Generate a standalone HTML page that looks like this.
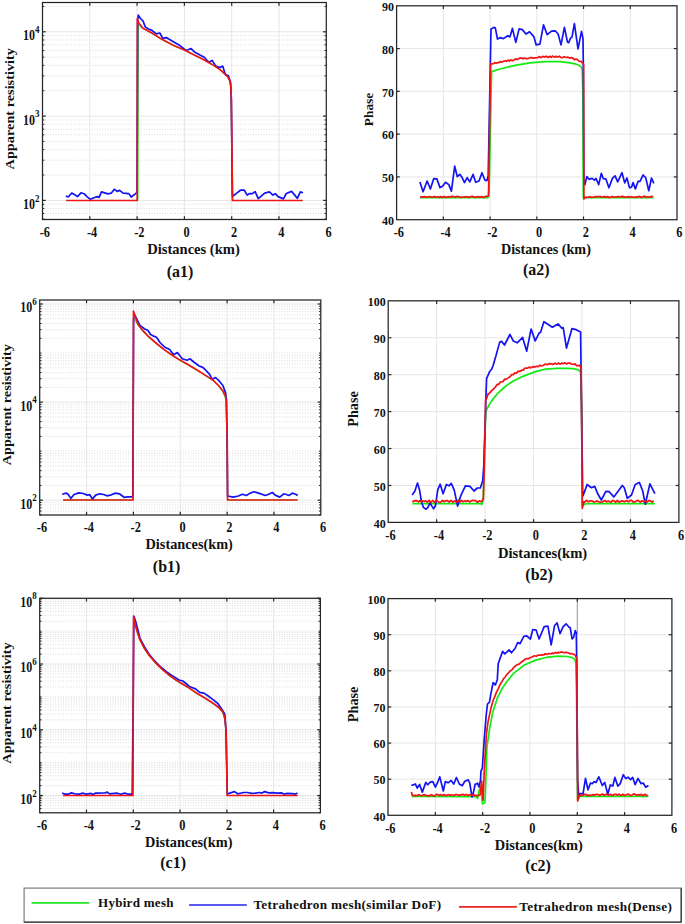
<!DOCTYPE html>
<html><head><meta charset="utf-8"><style>
html,body{margin:0;padding:0;background:#fff;}
svg{display:block;}
text{-webkit-font-smoothing:antialiased;font-family:"Liberation Serif", serif;font-weight:bold;fill:#111111;}
</style></head><body>
<svg width="685" height="924" viewBox="0 0 685 924">
<rect width="685" height="924" fill="#fff"/>
<g><line x1="42.50" y1="219.10" x2="326.30" y2="219.10" stroke="#cfcfcf" stroke-width="0.8" stroke-dasharray="0.9 1.7"/>
<line x1="42.50" y1="213.46" x2="326.30" y2="213.46" stroke="#cfcfcf" stroke-width="0.8" stroke-dasharray="0.9 1.7"/>
<line x1="42.50" y1="208.57" x2="326.30" y2="208.57" stroke="#cfcfcf" stroke-width="0.8" stroke-dasharray="0.9 1.7"/>
<line x1="42.50" y1="204.26" x2="326.30" y2="204.26" stroke="#cfcfcf" stroke-width="0.8" stroke-dasharray="0.9 1.7"/>
<line x1="42.50" y1="175.02" x2="326.30" y2="175.02" stroke="#cfcfcf" stroke-width="0.8" stroke-dasharray="0.9 1.7"/>
<line x1="42.50" y1="160.18" x2="326.30" y2="160.18" stroke="#cfcfcf" stroke-width="0.8" stroke-dasharray="0.9 1.7"/>
<line x1="42.50" y1="149.65" x2="326.30" y2="149.65" stroke="#cfcfcf" stroke-width="0.8" stroke-dasharray="0.9 1.7"/>
<line x1="42.50" y1="141.48" x2="326.30" y2="141.48" stroke="#cfcfcf" stroke-width="0.8" stroke-dasharray="0.9 1.7"/>
<line x1="42.50" y1="134.80" x2="326.30" y2="134.80" stroke="#cfcfcf" stroke-width="0.8" stroke-dasharray="0.9 1.7"/>
<line x1="42.50" y1="129.16" x2="326.30" y2="129.16" stroke="#cfcfcf" stroke-width="0.8" stroke-dasharray="0.9 1.7"/>
<line x1="42.50" y1="124.27" x2="326.30" y2="124.27" stroke="#cfcfcf" stroke-width="0.8" stroke-dasharray="0.9 1.7"/>
<line x1="42.50" y1="119.96" x2="326.30" y2="119.96" stroke="#cfcfcf" stroke-width="0.8" stroke-dasharray="0.9 1.7"/>
<line x1="42.50" y1="90.72" x2="326.30" y2="90.72" stroke="#cfcfcf" stroke-width="0.8" stroke-dasharray="0.9 1.7"/>
<line x1="42.50" y1="75.88" x2="326.30" y2="75.88" stroke="#cfcfcf" stroke-width="0.8" stroke-dasharray="0.9 1.7"/>
<line x1="42.50" y1="65.35" x2="326.30" y2="65.35" stroke="#cfcfcf" stroke-width="0.8" stroke-dasharray="0.9 1.7"/>
<line x1="42.50" y1="57.18" x2="326.30" y2="57.18" stroke="#cfcfcf" stroke-width="0.8" stroke-dasharray="0.9 1.7"/>
<line x1="42.50" y1="50.50" x2="326.30" y2="50.50" stroke="#cfcfcf" stroke-width="0.8" stroke-dasharray="0.9 1.7"/>
<line x1="42.50" y1="44.86" x2="326.30" y2="44.86" stroke="#cfcfcf" stroke-width="0.8" stroke-dasharray="0.9 1.7"/>
<line x1="42.50" y1="39.97" x2="326.30" y2="39.97" stroke="#cfcfcf" stroke-width="0.8" stroke-dasharray="0.9 1.7"/>
<line x1="42.50" y1="35.66" x2="326.30" y2="35.66" stroke="#cfcfcf" stroke-width="0.8" stroke-dasharray="0.9 1.7"/>
<line x1="42.50" y1="6.42" x2="326.30" y2="6.42" stroke="#cfcfcf" stroke-width="0.8" stroke-dasharray="0.9 1.7"/>
<line x1="42.50" y1="200.40" x2="326.30" y2="200.40" stroke="#e6e6e6" stroke-width="1"/>
<line x1="42.50" y1="116.10" x2="326.30" y2="116.10" stroke="#e6e6e6" stroke-width="1"/>
<line x1="42.50" y1="31.80" x2="326.30" y2="31.80" stroke="#e6e6e6" stroke-width="1"/>
<line x1="89.80" y1="2.50" x2="89.80" y2="219.50" stroke="#e6e6e6" stroke-width="1"/>
<line x1="137.10" y1="2.50" x2="137.10" y2="219.50" stroke="#e6e6e6" stroke-width="1"/>
<line x1="184.40" y1="2.50" x2="184.40" y2="219.50" stroke="#e6e6e6" stroke-width="1"/>
<line x1="231.70" y1="2.50" x2="231.70" y2="219.50" stroke="#e6e6e6" stroke-width="1"/>
<line x1="279.00" y1="2.50" x2="279.00" y2="219.50" stroke="#e6e6e6" stroke-width="1"/></g>
<svg x="42.5" y="2.5" width="283.8" height="217.0" viewBox="42.5 2.5 283.8 217.0" overflow="hidden">
<polyline points="66.2,200.5 137.9,200.5 138.4,24.3 139.5,26.0 143.1,28.8 151.9,33.4 162.4,40.0 173.8,45.9 185.0,50.6 193.8,55.0 202.5,59.4 211.3,64.2 220.0,69.9 224.4,73.8 227.9,77.3 229.7,81.0 230.6,86.0 231.2,100.3 232.2,200.5 302.6,200.5" fill="none" stroke="#12ea12" stroke-width="1.0" stroke-linejoin="round" stroke-linecap="butt"/>
<polyline points="65.8,196.0 68.2,197.0 71.7,193.1 76.4,195.8 77.5,196.6 81.0,192.8 84.0,193.7 86.9,196.6 90.4,199.3 93.9,197.8 97.4,196.6 99.1,197.4 101.5,191.9 105.5,193.1 107.9,193.9 111.4,193.1 114.3,189.3 117.2,191.4 119.6,190.4 123.1,193.1 128.9,193.7 131.2,197.0 135.3,193.9 137.0,192.5 137.6,20.0 138.3,15.1 140.5,18.5 143.1,21.2 145.3,26.9 148.5,29.0 151.9,30.4 156.3,33.9 159.8,33.0 162.8,38.3 166.3,37.6 172.9,41.4 179.0,44.9 186.0,50.5 188.0,49.8 191.1,48.6 194.6,52.1 199.9,55.1 204.3,57.3 208.7,62.2 212.2,60.4 215.7,66.1 220.0,67.6 222.7,66.1 225.3,74.4 228.4,75.7 230.5,82.3 231.3,100.0 232.4,196.0 233.0,196.0 236.7,193.1 240.8,190.0 244.3,190.2 247.2,195.1 249.5,193.5 252.4,193.7 255.1,191.6 258.3,198.6 264.7,193.1 269.4,191.9 272.9,195.1 275.2,193.7 278.1,196.6 283.4,198.9 286.3,193.5 291.6,191.4 297.4,198.4 300.3,191.9 303.0,192.8" fill="none" stroke="#1414f2" stroke-width="1.7" stroke-linejoin="round" stroke-linecap="butt"/>
<polyline points="66.2,200.5 137.2,200.5 137.4,18.6 138.8,23.0 143.1,28.2 151.9,33.0 162.4,39.6 173.8,45.5 185.0,50.3 193.8,54.7 202.5,59.1 211.3,63.9 220.0,69.6 224.4,73.5 227.9,77.0 229.7,80.5 230.8,85.0 231.4,100.3 232.5,200.5 302.6,200.5" fill="none" stroke="#f01414" stroke-width="1.7" stroke-linejoin="round" stroke-linecap="butt"/>
</svg>
<g><line x1="89.80" y1="219.50" x2="89.80" y2="216.30" stroke="#262626" stroke-width="1.2"/>
<line x1="89.80" y1="2.50" x2="89.80" y2="5.70" stroke="#262626" stroke-width="1.2"/>
<line x1="137.10" y1="219.50" x2="137.10" y2="216.30" stroke="#262626" stroke-width="1.2"/>
<line x1="137.10" y1="2.50" x2="137.10" y2="5.70" stroke="#262626" stroke-width="1.2"/>
<line x1="184.40" y1="219.50" x2="184.40" y2="216.30" stroke="#262626" stroke-width="1.2"/>
<line x1="184.40" y1="2.50" x2="184.40" y2="5.70" stroke="#262626" stroke-width="1.2"/>
<line x1="231.70" y1="219.50" x2="231.70" y2="216.30" stroke="#262626" stroke-width="1.2"/>
<line x1="231.70" y1="2.50" x2="231.70" y2="5.70" stroke="#262626" stroke-width="1.2"/>
<line x1="279.00" y1="219.50" x2="279.00" y2="216.30" stroke="#262626" stroke-width="1.2"/>
<line x1="279.00" y1="2.50" x2="279.00" y2="5.70" stroke="#262626" stroke-width="1.2"/>
<line x1="42.50" y1="200.40" x2="45.70" y2="200.40" stroke="#262626" stroke-width="1.2"/>
<line x1="326.30" y1="200.40" x2="323.10" y2="200.40" stroke="#262626" stroke-width="1.2"/>
<line x1="42.50" y1="116.10" x2="45.70" y2="116.10" stroke="#262626" stroke-width="1.2"/>
<line x1="326.30" y1="116.10" x2="323.10" y2="116.10" stroke="#262626" stroke-width="1.2"/>
<line x1="42.50" y1="31.80" x2="45.70" y2="31.80" stroke="#262626" stroke-width="1.2"/>
<line x1="326.30" y1="31.80" x2="323.10" y2="31.80" stroke="#262626" stroke-width="1.2"/>
<line x1="42.50" y1="219.10" x2="44.30" y2="219.10" stroke="#262626" stroke-width="1"/>
<line x1="326.30" y1="219.10" x2="324.50" y2="219.10" stroke="#262626" stroke-width="1"/>
<line x1="42.50" y1="213.46" x2="44.30" y2="213.46" stroke="#262626" stroke-width="1"/>
<line x1="326.30" y1="213.46" x2="324.50" y2="213.46" stroke="#262626" stroke-width="1"/>
<line x1="42.50" y1="208.57" x2="44.30" y2="208.57" stroke="#262626" stroke-width="1"/>
<line x1="326.30" y1="208.57" x2="324.50" y2="208.57" stroke="#262626" stroke-width="1"/>
<line x1="42.50" y1="204.26" x2="44.30" y2="204.26" stroke="#262626" stroke-width="1"/>
<line x1="326.30" y1="204.26" x2="324.50" y2="204.26" stroke="#262626" stroke-width="1"/>
<line x1="42.50" y1="175.02" x2="44.30" y2="175.02" stroke="#262626" stroke-width="1"/>
<line x1="326.30" y1="175.02" x2="324.50" y2="175.02" stroke="#262626" stroke-width="1"/>
<line x1="42.50" y1="160.18" x2="44.30" y2="160.18" stroke="#262626" stroke-width="1"/>
<line x1="326.30" y1="160.18" x2="324.50" y2="160.18" stroke="#262626" stroke-width="1"/>
<line x1="42.50" y1="149.65" x2="44.30" y2="149.65" stroke="#262626" stroke-width="1"/>
<line x1="326.30" y1="149.65" x2="324.50" y2="149.65" stroke="#262626" stroke-width="1"/>
<line x1="42.50" y1="141.48" x2="44.30" y2="141.48" stroke="#262626" stroke-width="1"/>
<line x1="326.30" y1="141.48" x2="324.50" y2="141.48" stroke="#262626" stroke-width="1"/>
<line x1="42.50" y1="134.80" x2="44.30" y2="134.80" stroke="#262626" stroke-width="1"/>
<line x1="326.30" y1="134.80" x2="324.50" y2="134.80" stroke="#262626" stroke-width="1"/>
<line x1="42.50" y1="129.16" x2="44.30" y2="129.16" stroke="#262626" stroke-width="1"/>
<line x1="326.30" y1="129.16" x2="324.50" y2="129.16" stroke="#262626" stroke-width="1"/>
<line x1="42.50" y1="124.27" x2="44.30" y2="124.27" stroke="#262626" stroke-width="1"/>
<line x1="326.30" y1="124.27" x2="324.50" y2="124.27" stroke="#262626" stroke-width="1"/>
<line x1="42.50" y1="119.96" x2="44.30" y2="119.96" stroke="#262626" stroke-width="1"/>
<line x1="326.30" y1="119.96" x2="324.50" y2="119.96" stroke="#262626" stroke-width="1"/>
<line x1="42.50" y1="90.72" x2="44.30" y2="90.72" stroke="#262626" stroke-width="1"/>
<line x1="326.30" y1="90.72" x2="324.50" y2="90.72" stroke="#262626" stroke-width="1"/>
<line x1="42.50" y1="75.88" x2="44.30" y2="75.88" stroke="#262626" stroke-width="1"/>
<line x1="326.30" y1="75.88" x2="324.50" y2="75.88" stroke="#262626" stroke-width="1"/>
<line x1="42.50" y1="65.35" x2="44.30" y2="65.35" stroke="#262626" stroke-width="1"/>
<line x1="326.30" y1="65.35" x2="324.50" y2="65.35" stroke="#262626" stroke-width="1"/>
<line x1="42.50" y1="57.18" x2="44.30" y2="57.18" stroke="#262626" stroke-width="1"/>
<line x1="326.30" y1="57.18" x2="324.50" y2="57.18" stroke="#262626" stroke-width="1"/>
<line x1="42.50" y1="50.50" x2="44.30" y2="50.50" stroke="#262626" stroke-width="1"/>
<line x1="326.30" y1="50.50" x2="324.50" y2="50.50" stroke="#262626" stroke-width="1"/>
<line x1="42.50" y1="44.86" x2="44.30" y2="44.86" stroke="#262626" stroke-width="1"/>
<line x1="326.30" y1="44.86" x2="324.50" y2="44.86" stroke="#262626" stroke-width="1"/>
<line x1="42.50" y1="39.97" x2="44.30" y2="39.97" stroke="#262626" stroke-width="1"/>
<line x1="326.30" y1="39.97" x2="324.50" y2="39.97" stroke="#262626" stroke-width="1"/>
<line x1="42.50" y1="35.66" x2="44.30" y2="35.66" stroke="#262626" stroke-width="1"/>
<line x1="326.30" y1="35.66" x2="324.50" y2="35.66" stroke="#262626" stroke-width="1"/>
<line x1="42.50" y1="6.42" x2="44.30" y2="6.42" stroke="#262626" stroke-width="1"/>
<line x1="326.30" y1="6.42" x2="324.50" y2="6.42" stroke="#262626" stroke-width="1"/>
<rect x="42.50" y="2.50" width="283.80" height="217.00" fill="none" stroke="#262626" stroke-width="1.25"/>
<text transform="translate(44.80,237.20) scale(1.03,1.16)" text-anchor="middle" font-size="12">-6</text>
<text transform="translate(92.10,237.20) scale(1.03,1.16)" text-anchor="middle" font-size="12">-4</text>
<text transform="translate(139.40,237.20) scale(1.03,1.16)" text-anchor="middle" font-size="12">-2</text>
<text transform="translate(186.70,237.20) scale(1.03,1.16)" text-anchor="middle" font-size="12">0</text>
<text transform="translate(234.00,237.20) scale(1.03,1.16)" text-anchor="middle" font-size="12">2</text>
<text transform="translate(281.30,237.20) scale(1.03,1.16)" text-anchor="middle" font-size="12">4</text>
<text transform="translate(328.60,237.20) scale(1.03,1.16)" text-anchor="middle" font-size="12">6</text>
<text transform="translate(35.10,208.80) scale(1.0,1.13)" text-anchor="end" font-size="12">10</text>
<text transform="translate(35.00,201.60) scale(1.0,1.1)" text-anchor="start" font-size="9">2</text>
<text transform="translate(35.10,124.50) scale(1.0,1.13)" text-anchor="end" font-size="12">10</text>
<text transform="translate(35.00,117.30) scale(1.0,1.1)" text-anchor="start" font-size="9">3</text>
<text transform="translate(35.10,40.20) scale(1.0,1.13)" text-anchor="end" font-size="12">10</text>
<text transform="translate(35.00,33.00) scale(1.0,1.1)" text-anchor="start" font-size="9">4</text>
<text x="193.50" y="253.80" text-anchor="middle" font-size="14.55">Distances (km)</text>
<text transform="translate(13.90,108.75) rotate(-90) scale(1.1,1)" text-anchor="middle" font-size="13">Apparent resistivity</text>
<text transform="translate(180.00,276.80) scale(1,1.08)" text-anchor="middle" font-size="16">(a1)</text></g>
<g><line x1="396.60" y1="176.92" x2="677.00" y2="176.92" stroke="#e6e6e6" stroke-width="1"/>
<line x1="396.60" y1="134.14" x2="677.00" y2="134.14" stroke="#e6e6e6" stroke-width="1"/>
<line x1="396.60" y1="91.36" x2="677.00" y2="91.36" stroke="#e6e6e6" stroke-width="1"/>
<line x1="396.60" y1="48.58" x2="677.00" y2="48.58" stroke="#e6e6e6" stroke-width="1"/>
<line x1="443.33" y1="5.80" x2="443.33" y2="219.70" stroke="#e6e6e6" stroke-width="1"/>
<line x1="490.07" y1="5.80" x2="490.07" y2="219.70" stroke="#e6e6e6" stroke-width="1"/>
<line x1="536.80" y1="5.80" x2="536.80" y2="219.70" stroke="#e6e6e6" stroke-width="1"/>
<line x1="583.53" y1="5.80" x2="583.53" y2="219.70" stroke="#e6e6e6" stroke-width="1"/>
<line x1="630.27" y1="5.80" x2="630.27" y2="219.70" stroke="#e6e6e6" stroke-width="1"/></g>
<svg x="396.6" y="5.8" width="280.4" height="213.89999999999998" viewBox="396.6 5.8 280.4 213.89999999999998" overflow="hidden">
<polyline points="420.0,197.7 487.8,197.7 489.0,195.3 491.6,71.6 500.0,69.0 515.0,65.4 530.0,62.9 545.0,61.7 560.0,61.7 570.0,62.8 575.0,63.8 579.0,65.3 581.5,67.4 582.3,70.5 582.8,90.0 583.3,197.7 653.6,197.7" fill="none" stroke="#12ea12" stroke-width="1.7" stroke-linejoin="round" stroke-linecap="butt"/>
<polyline points="419.9,181.9 423.1,191.8 427.1,181.0 430.4,188.9 433.7,178.7 436.9,178.9 440.0,187.6 442.6,186.3 445.5,182.3 448.8,184.6 451.4,191.1 454.7,166.2 457.3,176.7 459.7,174.4 461.9,177.1 464.5,182.6 467.2,177.6 469.8,181.9 473.1,174.4 475.7,182.3 479.0,181.0 482.0,172.7 484.9,180.2 486.9,180.6 488.2,175.8 491.0,28.9 493.9,27.4 495.3,27.8 497.5,39.1 500.4,37.6 503.4,38.6 507.7,35.7 509.9,36.9 512.4,28.4 515.8,42.4 519.1,28.9 522.3,29.6 526.0,34.0 529.6,31.8 534.0,36.9 536.2,44.9 539.9,44.2 543.5,24.9 547.2,34.7 551.5,31.1 555.2,30.8 558.1,34.0 561.0,44.9 564.4,27.4 567.5,42.2 568.7,42.7 570.5,38.1 572.0,37.1 574.4,23.7 578.0,48.9 581.5,31.4 583.0,38.6 583.3,63.3 583.9,184.6 584.9,184.6 586.8,176.7 589.2,179.3 592.1,178.4 594.4,180.2 596.0,178.4 598.7,184.6 601.3,173.4 603.3,178.7 605.9,178.9 608.9,187.8 612.4,178.4 615.1,175.8 617.7,181.9 622.0,172.7 624.7,182.9 626.9,178.0 629.5,187.8 631.5,187.2 633.1,182.6 635.4,188.9 638.1,181.3 640.0,181.3 643.1,175.0 645.7,177.6 648.8,190.7 651.5,178.0 653.8,183.3" fill="none" stroke="#1414f2" stroke-width="1.7" stroke-linejoin="round" stroke-linecap="butt"/>
<polyline points="420.0,197.2 421.9,196.7 423.4,197.1 424.6,196.6 425.9,197.2 427.2,197.2 429.4,196.5 431.6,197.1 433.1,197.1 434.6,196.4 436.4,197.3 438.1,196.7 439.5,197.4 441.0,196.5 442.5,197.4 444.0,196.5 446.0,197.4 448.2,196.7 450.2,197.1 451.4,196.4 453.2,196.4 455.1,197.3 456.7,196.4 458.4,196.5 460.3,197.3 462.4,197.2 464.2,196.7 465.6,197.1 467.6,196.7 469.2,197.4 470.8,196.5 472.8,196.4 474.4,197.2 476.6,197.1 478.0,196.6 479.8,197.2 481.4,196.6 483.6,197.4 485.4,196.4 488.3,196.2 488.6,190.0 490.6,63.8 491.5,64.0 493.5,63.7 494.8,62.7 496.1,63.3 497.6,62.5 498.9,62.7 500.2,61.6 501.5,62.3 503.1,61.4 505.3,60.8 506.5,61.2 508.0,60.1 509.2,61.1 510.6,59.8 512.3,60.7 514.2,60.0 515.5,58.9 517.5,59.5 519.5,58.2 521.6,58.0 523.0,58.8 524.2,58.0 525.7,58.6 527.3,58.6 529.5,58.1 530.9,57.4 532.7,58.2 534.4,57.9 535.7,57.8 537.7,57.7 539.0,56.5 541.0,57.7 542.6,56.3 544.0,57.1 546.1,56.2 548.1,57.5 549.7,56.3 550.9,57.4 552.6,56.0 554.7,57.2 556.1,56.3 557.9,57.1 559.3,56.2 560.9,57.4 562.5,57.7 564.3,56.7 565.9,57.5 567.9,57.2 569.8,58.1 571.6,57.6 572.9,58.0 574.3,59.6 576.1,59.1 577.7,59.8 579.4,61.5 581.2,61.4 583.6,64.3 583.9,199.0 585.0,197.4 586.5,197.3 588.5,197.1 590.1,196.7 591.4,197.4 593.5,197.1 595.4,196.7 597.6,196.7 599.1,196.5 601.2,196.7 602.9,197.2 604.4,196.4 606.2,197.2 607.7,196.5 609.0,197.5 611.1,197.1 612.4,196.4 613.7,197.2 615.7,197.2 617.8,196.5 619.1,197.1 620.7,196.7 622.6,196.4 624.6,197.1 626.3,197.2 628.4,196.6 630.2,197.2 631.5,196.7 633.0,197.2 634.5,197.3 636.1,196.7 637.3,197.4 638.6,196.5 639.9,196.4 641.6,197.4 643.3,196.4 644.9,196.4 646.7,197.2 648.0,196.7 649.9,197.2 651.2,196.4 653.1,196.6" fill="none" stroke="#f01414" stroke-width="1.7" stroke-linejoin="round" stroke-linecap="butt"/>
</svg>
<g><line x1="443.33" y1="219.70" x2="443.33" y2="216.50" stroke="#262626" stroke-width="1.2"/>
<line x1="443.33" y1="5.80" x2="443.33" y2="9.00" stroke="#262626" stroke-width="1.2"/>
<line x1="490.07" y1="219.70" x2="490.07" y2="216.50" stroke="#262626" stroke-width="1.2"/>
<line x1="490.07" y1="5.80" x2="490.07" y2="9.00" stroke="#262626" stroke-width="1.2"/>
<line x1="536.80" y1="219.70" x2="536.80" y2="216.50" stroke="#262626" stroke-width="1.2"/>
<line x1="536.80" y1="5.80" x2="536.80" y2="9.00" stroke="#262626" stroke-width="1.2"/>
<line x1="583.53" y1="219.70" x2="583.53" y2="216.50" stroke="#262626" stroke-width="1.2"/>
<line x1="583.53" y1="5.80" x2="583.53" y2="9.00" stroke="#262626" stroke-width="1.2"/>
<line x1="630.27" y1="219.70" x2="630.27" y2="216.50" stroke="#262626" stroke-width="1.2"/>
<line x1="630.27" y1="5.80" x2="630.27" y2="9.00" stroke="#262626" stroke-width="1.2"/>
<line x1="396.60" y1="176.92" x2="399.80" y2="176.92" stroke="#262626" stroke-width="1.2"/>
<line x1="677.00" y1="176.92" x2="673.80" y2="176.92" stroke="#262626" stroke-width="1.2"/>
<line x1="396.60" y1="134.14" x2="399.80" y2="134.14" stroke="#262626" stroke-width="1.2"/>
<line x1="677.00" y1="134.14" x2="673.80" y2="134.14" stroke="#262626" stroke-width="1.2"/>
<line x1="396.60" y1="91.36" x2="399.80" y2="91.36" stroke="#262626" stroke-width="1.2"/>
<line x1="677.00" y1="91.36" x2="673.80" y2="91.36" stroke="#262626" stroke-width="1.2"/>
<line x1="396.60" y1="48.58" x2="399.80" y2="48.58" stroke="#262626" stroke-width="1.2"/>
<line x1="677.00" y1="48.58" x2="673.80" y2="48.58" stroke="#262626" stroke-width="1.2"/>
<rect x="396.60" y="5.80" width="280.40" height="213.90" fill="none" stroke="#262626" stroke-width="1.25"/>
<text transform="translate(398.90,237.30) scale(1.03,1.16)" text-anchor="middle" font-size="12">-6</text>
<text transform="translate(445.63,237.30) scale(1.03,1.16)" text-anchor="middle" font-size="12">-4</text>
<text transform="translate(492.37,237.30) scale(1.03,1.16)" text-anchor="middle" font-size="12">-2</text>
<text transform="translate(539.10,237.30) scale(1.03,1.16)" text-anchor="middle" font-size="12">0</text>
<text transform="translate(585.83,237.30) scale(1.03,1.16)" text-anchor="middle" font-size="12">2</text>
<text transform="translate(632.57,237.30) scale(1.03,1.16)" text-anchor="middle" font-size="12">4</text>
<text transform="translate(679.30,237.30) scale(1.03,1.16)" text-anchor="middle" font-size="12">6</text>
<text transform="translate(394.10,225.00) scale(1.0,1.1)" text-anchor="end" font-size="12">40</text>
<text transform="translate(394.10,182.22) scale(1.0,1.1)" text-anchor="end" font-size="12">50</text>
<text transform="translate(394.10,139.44) scale(1.0,1.1)" text-anchor="end" font-size="12">60</text>
<text transform="translate(394.10,96.66) scale(1.0,1.1)" text-anchor="end" font-size="12">70</text>
<text transform="translate(394.10,53.88) scale(1.0,1.1)" text-anchor="end" font-size="12">80</text>
<text transform="translate(394.10,11.10) scale(1.0,1.1)" text-anchor="end" font-size="12">90</text>
<text x="545.90" y="253.80" text-anchor="middle" font-size="14.15">Distances (km)</text>
<text transform="translate(373.20,109.50) rotate(-90) scale(1,1)" text-anchor="middle" font-size="13.4">Phase</text>
<text transform="translate(536.30,274.80) scale(1,1.08)" text-anchor="middle" font-size="16">(a2)</text></g>
<g><line x1="39.70" y1="514.97" x2="320.80" y2="514.97" stroke="#cfcfcf" stroke-width="0.8" stroke-dasharray="0.9 1.7"/>
<line x1="39.70" y1="511.08" x2="320.80" y2="511.08" stroke="#cfcfcf" stroke-width="0.8" stroke-dasharray="0.9 1.7"/>
<line x1="39.70" y1="507.80" x2="320.80" y2="507.80" stroke="#cfcfcf" stroke-width="0.8" stroke-dasharray="0.9 1.7"/>
<line x1="39.70" y1="504.95" x2="320.80" y2="504.95" stroke="#cfcfcf" stroke-width="0.8" stroke-dasharray="0.9 1.7"/>
<line x1="39.70" y1="502.44" x2="320.80" y2="502.44" stroke="#cfcfcf" stroke-width="0.8" stroke-dasharray="0.9 1.7"/>
<line x1="39.70" y1="485.43" x2="320.80" y2="485.43" stroke="#cfcfcf" stroke-width="0.8" stroke-dasharray="0.9 1.7"/>
<line x1="39.70" y1="476.80" x2="320.80" y2="476.80" stroke="#cfcfcf" stroke-width="0.8" stroke-dasharray="0.9 1.7"/>
<line x1="39.70" y1="470.67" x2="320.80" y2="470.67" stroke="#cfcfcf" stroke-width="0.8" stroke-dasharray="0.9 1.7"/>
<line x1="39.70" y1="465.92" x2="320.80" y2="465.92" stroke="#cfcfcf" stroke-width="0.8" stroke-dasharray="0.9 1.7"/>
<line x1="39.70" y1="462.03" x2="320.80" y2="462.03" stroke="#cfcfcf" stroke-width="0.8" stroke-dasharray="0.9 1.7"/>
<line x1="39.70" y1="458.75" x2="320.80" y2="458.75" stroke="#cfcfcf" stroke-width="0.8" stroke-dasharray="0.9 1.7"/>
<line x1="39.70" y1="455.90" x2="320.80" y2="455.90" stroke="#cfcfcf" stroke-width="0.8" stroke-dasharray="0.9 1.7"/>
<line x1="39.70" y1="453.39" x2="320.80" y2="453.39" stroke="#cfcfcf" stroke-width="0.8" stroke-dasharray="0.9 1.7"/>
<line x1="39.70" y1="451.15" x2="320.80" y2="451.15" stroke="#cfcfcf" stroke-width="0.8" stroke-dasharray="0.9 1.7"/>
<line x1="39.70" y1="436.38" x2="320.80" y2="436.38" stroke="#cfcfcf" stroke-width="0.8" stroke-dasharray="0.9 1.7"/>
<line x1="39.70" y1="427.75" x2="320.80" y2="427.75" stroke="#cfcfcf" stroke-width="0.8" stroke-dasharray="0.9 1.7"/>
<line x1="39.70" y1="421.62" x2="320.80" y2="421.62" stroke="#cfcfcf" stroke-width="0.8" stroke-dasharray="0.9 1.7"/>
<line x1="39.70" y1="416.87" x2="320.80" y2="416.87" stroke="#cfcfcf" stroke-width="0.8" stroke-dasharray="0.9 1.7"/>
<line x1="39.70" y1="412.98" x2="320.80" y2="412.98" stroke="#cfcfcf" stroke-width="0.8" stroke-dasharray="0.9 1.7"/>
<line x1="39.70" y1="409.70" x2="320.80" y2="409.70" stroke="#cfcfcf" stroke-width="0.8" stroke-dasharray="0.9 1.7"/>
<line x1="39.70" y1="406.85" x2="320.80" y2="406.85" stroke="#cfcfcf" stroke-width="0.8" stroke-dasharray="0.9 1.7"/>
<line x1="39.70" y1="404.34" x2="320.80" y2="404.34" stroke="#cfcfcf" stroke-width="0.8" stroke-dasharray="0.9 1.7"/>
<line x1="39.70" y1="387.33" x2="320.80" y2="387.33" stroke="#cfcfcf" stroke-width="0.8" stroke-dasharray="0.9 1.7"/>
<line x1="39.70" y1="378.70" x2="320.80" y2="378.70" stroke="#cfcfcf" stroke-width="0.8" stroke-dasharray="0.9 1.7"/>
<line x1="39.70" y1="372.57" x2="320.80" y2="372.57" stroke="#cfcfcf" stroke-width="0.8" stroke-dasharray="0.9 1.7"/>
<line x1="39.70" y1="367.82" x2="320.80" y2="367.82" stroke="#cfcfcf" stroke-width="0.8" stroke-dasharray="0.9 1.7"/>
<line x1="39.70" y1="363.93" x2="320.80" y2="363.93" stroke="#cfcfcf" stroke-width="0.8" stroke-dasharray="0.9 1.7"/>
<line x1="39.70" y1="360.65" x2="320.80" y2="360.65" stroke="#cfcfcf" stroke-width="0.8" stroke-dasharray="0.9 1.7"/>
<line x1="39.70" y1="357.80" x2="320.80" y2="357.80" stroke="#cfcfcf" stroke-width="0.8" stroke-dasharray="0.9 1.7"/>
<line x1="39.70" y1="355.29" x2="320.80" y2="355.29" stroke="#cfcfcf" stroke-width="0.8" stroke-dasharray="0.9 1.7"/>
<line x1="39.70" y1="353.05" x2="320.80" y2="353.05" stroke="#cfcfcf" stroke-width="0.8" stroke-dasharray="0.9 1.7"/>
<line x1="39.70" y1="338.28" x2="320.80" y2="338.28" stroke="#cfcfcf" stroke-width="0.8" stroke-dasharray="0.9 1.7"/>
<line x1="39.70" y1="329.65" x2="320.80" y2="329.65" stroke="#cfcfcf" stroke-width="0.8" stroke-dasharray="0.9 1.7"/>
<line x1="39.70" y1="323.52" x2="320.80" y2="323.52" stroke="#cfcfcf" stroke-width="0.8" stroke-dasharray="0.9 1.7"/>
<line x1="39.70" y1="318.77" x2="320.80" y2="318.77" stroke="#cfcfcf" stroke-width="0.8" stroke-dasharray="0.9 1.7"/>
<line x1="39.70" y1="314.88" x2="320.80" y2="314.88" stroke="#cfcfcf" stroke-width="0.8" stroke-dasharray="0.9 1.7"/>
<line x1="39.70" y1="311.60" x2="320.80" y2="311.60" stroke="#cfcfcf" stroke-width="0.8" stroke-dasharray="0.9 1.7"/>
<line x1="39.70" y1="308.75" x2="320.80" y2="308.75" stroke="#cfcfcf" stroke-width="0.8" stroke-dasharray="0.9 1.7"/>
<line x1="39.70" y1="306.24" x2="320.80" y2="306.24" stroke="#cfcfcf" stroke-width="0.8" stroke-dasharray="0.9 1.7"/>
<line x1="39.70" y1="500.20" x2="320.80" y2="500.20" stroke="#e6e6e6" stroke-width="1"/>
<line x1="39.70" y1="402.10" x2="320.80" y2="402.10" stroke="#e6e6e6" stroke-width="1"/>
<line x1="39.70" y1="304.00" x2="320.80" y2="304.00" stroke="#e6e6e6" stroke-width="1"/>
<line x1="86.55" y1="300.00" x2="86.55" y2="515.00" stroke="#e6e6e6" stroke-width="1"/>
<line x1="133.40" y1="300.00" x2="133.40" y2="515.00" stroke="#e6e6e6" stroke-width="1"/>
<line x1="180.25" y1="300.00" x2="180.25" y2="515.00" stroke="#e6e6e6" stroke-width="1"/>
<line x1="227.10" y1="300.00" x2="227.10" y2="515.00" stroke="#e6e6e6" stroke-width="1"/>
<line x1="273.95" y1="300.00" x2="273.95" y2="515.00" stroke="#e6e6e6" stroke-width="1"/></g>
<svg x="39.7" y="300.0" width="281.1" height="215.0" viewBox="39.7 300.0 281.1 215.0" overflow="hidden">
<polyline points="63.1,500.0 133.0,500.0 133.5,318.0 136.0,322.0 138.5,326.0 142.5,331.0 147.8,336.5 154.8,342.6 163.5,349.6 172.3,355.7 180.0,360.6 188.8,365.5 197.5,370.7 206.3,376.3 213.3,380.8 218.5,386.0 222.5,391.5 225.0,397.0 226.0,402.0 226.9,440.0 227.5,500.0 297.6,500.0" fill="none" stroke="#12ea12" stroke-width="1.0" stroke-linejoin="round" stroke-linecap="butt"/>
<polyline points="62.2,494.2 66.2,493.1 68.1,494.2 70.8,498.4 74.1,494.5 78.7,492.9 83.2,493.5 87.2,495.1 89.8,494.7 92.4,499.1 95.7,495.1 99.7,493.8 103.6,494.5 106.9,495.8 111.5,494.8 115.4,493.1 119.4,493.8 124.0,497.3 127.9,496.8 131.9,496.8 132.8,496.0 133.6,318.0 134.6,314.9 137.0,319.5 139.9,325.4 145.1,329.3 147.8,330.2 150.4,334.2 153.0,335.9 156.5,337.2 160.0,342.5 164.4,346.9 169.7,349.5 173.6,354.7 177.4,352.6 180.5,356.5 182.2,358.8 187.0,360.3 190.1,358.8 193.1,361.5 198.8,365.8 203.2,367.6 205.4,369.8 209.8,374.6 212.0,379.4 215.5,377.5 219.4,381.2 222.9,385.5 225.5,392.6 226.4,399.6 227.1,440.0 227.6,496.0 233.1,497.1 238.4,496.0 242.3,494.2 246.3,495.5 250.2,493.1 254.2,491.8 259.4,493.4 265.3,495.5 268.6,494.2 272.3,492.5 275.2,495.1 279.8,497.1 283.7,493.8 286.4,494.5 289.0,495.5 292.3,493.1 295.6,494.2 297.8,495.5" fill="none" stroke="#1414f2" stroke-width="1.7" stroke-linejoin="round" stroke-linecap="butt"/>
<polyline points="63.1,500.0 133.0,500.0 133.5,311.0 135.5,317.5 138.1,324.5 142.5,330.2 147.8,335.9 154.8,342.0 163.5,349.1 172.3,355.2 180.0,360.1 188.8,365.0 197.5,370.2 206.3,375.9 213.3,380.3 218.5,385.5 222.9,390.8 225.5,396.1 226.4,401.3 227.2,440.0 227.6,500.0 297.6,500.0" fill="none" stroke="#f01414" stroke-width="1.7" stroke-linejoin="round" stroke-linecap="butt"/>
</svg>
<g><line x1="86.55" y1="515.00" x2="86.55" y2="511.80" stroke="#262626" stroke-width="1.2"/>
<line x1="86.55" y1="300.00" x2="86.55" y2="303.20" stroke="#262626" stroke-width="1.2"/>
<line x1="133.40" y1="515.00" x2="133.40" y2="511.80" stroke="#262626" stroke-width="1.2"/>
<line x1="133.40" y1="300.00" x2="133.40" y2="303.20" stroke="#262626" stroke-width="1.2"/>
<line x1="180.25" y1="515.00" x2="180.25" y2="511.80" stroke="#262626" stroke-width="1.2"/>
<line x1="180.25" y1="300.00" x2="180.25" y2="303.20" stroke="#262626" stroke-width="1.2"/>
<line x1="227.10" y1="515.00" x2="227.10" y2="511.80" stroke="#262626" stroke-width="1.2"/>
<line x1="227.10" y1="300.00" x2="227.10" y2="303.20" stroke="#262626" stroke-width="1.2"/>
<line x1="273.95" y1="515.00" x2="273.95" y2="511.80" stroke="#262626" stroke-width="1.2"/>
<line x1="273.95" y1="300.00" x2="273.95" y2="303.20" stroke="#262626" stroke-width="1.2"/>
<line x1="39.70" y1="500.20" x2="42.90" y2="500.20" stroke="#262626" stroke-width="1.2"/>
<line x1="320.80" y1="500.20" x2="317.60" y2="500.20" stroke="#262626" stroke-width="1.2"/>
<line x1="39.70" y1="402.10" x2="42.90" y2="402.10" stroke="#262626" stroke-width="1.2"/>
<line x1="320.80" y1="402.10" x2="317.60" y2="402.10" stroke="#262626" stroke-width="1.2"/>
<line x1="39.70" y1="304.00" x2="42.90" y2="304.00" stroke="#262626" stroke-width="1.2"/>
<line x1="320.80" y1="304.00" x2="317.60" y2="304.00" stroke="#262626" stroke-width="1.2"/>
<line x1="39.70" y1="514.97" x2="41.50" y2="514.97" stroke="#262626" stroke-width="1"/>
<line x1="320.80" y1="514.97" x2="319.00" y2="514.97" stroke="#262626" stroke-width="1"/>
<line x1="39.70" y1="511.08" x2="41.50" y2="511.08" stroke="#262626" stroke-width="1"/>
<line x1="320.80" y1="511.08" x2="319.00" y2="511.08" stroke="#262626" stroke-width="1"/>
<line x1="39.70" y1="507.80" x2="41.50" y2="507.80" stroke="#262626" stroke-width="1"/>
<line x1="320.80" y1="507.80" x2="319.00" y2="507.80" stroke="#262626" stroke-width="1"/>
<line x1="39.70" y1="504.95" x2="41.50" y2="504.95" stroke="#262626" stroke-width="1"/>
<line x1="320.80" y1="504.95" x2="319.00" y2="504.95" stroke="#262626" stroke-width="1"/>
<line x1="39.70" y1="502.44" x2="41.50" y2="502.44" stroke="#262626" stroke-width="1"/>
<line x1="320.80" y1="502.44" x2="319.00" y2="502.44" stroke="#262626" stroke-width="1"/>
<line x1="39.70" y1="485.43" x2="41.50" y2="485.43" stroke="#262626" stroke-width="1"/>
<line x1="320.80" y1="485.43" x2="319.00" y2="485.43" stroke="#262626" stroke-width="1"/>
<line x1="39.70" y1="476.80" x2="41.50" y2="476.80" stroke="#262626" stroke-width="1"/>
<line x1="320.80" y1="476.80" x2="319.00" y2="476.80" stroke="#262626" stroke-width="1"/>
<line x1="39.70" y1="470.67" x2="41.50" y2="470.67" stroke="#262626" stroke-width="1"/>
<line x1="320.80" y1="470.67" x2="319.00" y2="470.67" stroke="#262626" stroke-width="1"/>
<line x1="39.70" y1="465.92" x2="41.50" y2="465.92" stroke="#262626" stroke-width="1"/>
<line x1="320.80" y1="465.92" x2="319.00" y2="465.92" stroke="#262626" stroke-width="1"/>
<line x1="39.70" y1="462.03" x2="41.50" y2="462.03" stroke="#262626" stroke-width="1"/>
<line x1="320.80" y1="462.03" x2="319.00" y2="462.03" stroke="#262626" stroke-width="1"/>
<line x1="39.70" y1="458.75" x2="41.50" y2="458.75" stroke="#262626" stroke-width="1"/>
<line x1="320.80" y1="458.75" x2="319.00" y2="458.75" stroke="#262626" stroke-width="1"/>
<line x1="39.70" y1="455.90" x2="41.50" y2="455.90" stroke="#262626" stroke-width="1"/>
<line x1="320.80" y1="455.90" x2="319.00" y2="455.90" stroke="#262626" stroke-width="1"/>
<line x1="39.70" y1="453.39" x2="41.50" y2="453.39" stroke="#262626" stroke-width="1"/>
<line x1="320.80" y1="453.39" x2="319.00" y2="453.39" stroke="#262626" stroke-width="1"/>
<line x1="39.70" y1="451.15" x2="41.50" y2="451.15" stroke="#262626" stroke-width="1"/>
<line x1="320.80" y1="451.15" x2="319.00" y2="451.15" stroke="#262626" stroke-width="1"/>
<line x1="39.70" y1="436.38" x2="41.50" y2="436.38" stroke="#262626" stroke-width="1"/>
<line x1="320.80" y1="436.38" x2="319.00" y2="436.38" stroke="#262626" stroke-width="1"/>
<line x1="39.70" y1="427.75" x2="41.50" y2="427.75" stroke="#262626" stroke-width="1"/>
<line x1="320.80" y1="427.75" x2="319.00" y2="427.75" stroke="#262626" stroke-width="1"/>
<line x1="39.70" y1="421.62" x2="41.50" y2="421.62" stroke="#262626" stroke-width="1"/>
<line x1="320.80" y1="421.62" x2="319.00" y2="421.62" stroke="#262626" stroke-width="1"/>
<line x1="39.70" y1="416.87" x2="41.50" y2="416.87" stroke="#262626" stroke-width="1"/>
<line x1="320.80" y1="416.87" x2="319.00" y2="416.87" stroke="#262626" stroke-width="1"/>
<line x1="39.70" y1="412.98" x2="41.50" y2="412.98" stroke="#262626" stroke-width="1"/>
<line x1="320.80" y1="412.98" x2="319.00" y2="412.98" stroke="#262626" stroke-width="1"/>
<line x1="39.70" y1="409.70" x2="41.50" y2="409.70" stroke="#262626" stroke-width="1"/>
<line x1="320.80" y1="409.70" x2="319.00" y2="409.70" stroke="#262626" stroke-width="1"/>
<line x1="39.70" y1="406.85" x2="41.50" y2="406.85" stroke="#262626" stroke-width="1"/>
<line x1="320.80" y1="406.85" x2="319.00" y2="406.85" stroke="#262626" stroke-width="1"/>
<line x1="39.70" y1="404.34" x2="41.50" y2="404.34" stroke="#262626" stroke-width="1"/>
<line x1="320.80" y1="404.34" x2="319.00" y2="404.34" stroke="#262626" stroke-width="1"/>
<line x1="39.70" y1="387.33" x2="41.50" y2="387.33" stroke="#262626" stroke-width="1"/>
<line x1="320.80" y1="387.33" x2="319.00" y2="387.33" stroke="#262626" stroke-width="1"/>
<line x1="39.70" y1="378.70" x2="41.50" y2="378.70" stroke="#262626" stroke-width="1"/>
<line x1="320.80" y1="378.70" x2="319.00" y2="378.70" stroke="#262626" stroke-width="1"/>
<line x1="39.70" y1="372.57" x2="41.50" y2="372.57" stroke="#262626" stroke-width="1"/>
<line x1="320.80" y1="372.57" x2="319.00" y2="372.57" stroke="#262626" stroke-width="1"/>
<line x1="39.70" y1="367.82" x2="41.50" y2="367.82" stroke="#262626" stroke-width="1"/>
<line x1="320.80" y1="367.82" x2="319.00" y2="367.82" stroke="#262626" stroke-width="1"/>
<line x1="39.70" y1="363.93" x2="41.50" y2="363.93" stroke="#262626" stroke-width="1"/>
<line x1="320.80" y1="363.93" x2="319.00" y2="363.93" stroke="#262626" stroke-width="1"/>
<line x1="39.70" y1="360.65" x2="41.50" y2="360.65" stroke="#262626" stroke-width="1"/>
<line x1="320.80" y1="360.65" x2="319.00" y2="360.65" stroke="#262626" stroke-width="1"/>
<line x1="39.70" y1="357.80" x2="41.50" y2="357.80" stroke="#262626" stroke-width="1"/>
<line x1="320.80" y1="357.80" x2="319.00" y2="357.80" stroke="#262626" stroke-width="1"/>
<line x1="39.70" y1="355.29" x2="41.50" y2="355.29" stroke="#262626" stroke-width="1"/>
<line x1="320.80" y1="355.29" x2="319.00" y2="355.29" stroke="#262626" stroke-width="1"/>
<line x1="39.70" y1="353.05" x2="41.50" y2="353.05" stroke="#262626" stroke-width="1"/>
<line x1="320.80" y1="353.05" x2="319.00" y2="353.05" stroke="#262626" stroke-width="1"/>
<line x1="39.70" y1="338.28" x2="41.50" y2="338.28" stroke="#262626" stroke-width="1"/>
<line x1="320.80" y1="338.28" x2="319.00" y2="338.28" stroke="#262626" stroke-width="1"/>
<line x1="39.70" y1="329.65" x2="41.50" y2="329.65" stroke="#262626" stroke-width="1"/>
<line x1="320.80" y1="329.65" x2="319.00" y2="329.65" stroke="#262626" stroke-width="1"/>
<line x1="39.70" y1="323.52" x2="41.50" y2="323.52" stroke="#262626" stroke-width="1"/>
<line x1="320.80" y1="323.52" x2="319.00" y2="323.52" stroke="#262626" stroke-width="1"/>
<line x1="39.70" y1="318.77" x2="41.50" y2="318.77" stroke="#262626" stroke-width="1"/>
<line x1="320.80" y1="318.77" x2="319.00" y2="318.77" stroke="#262626" stroke-width="1"/>
<line x1="39.70" y1="314.88" x2="41.50" y2="314.88" stroke="#262626" stroke-width="1"/>
<line x1="320.80" y1="314.88" x2="319.00" y2="314.88" stroke="#262626" stroke-width="1"/>
<line x1="39.70" y1="311.60" x2="41.50" y2="311.60" stroke="#262626" stroke-width="1"/>
<line x1="320.80" y1="311.60" x2="319.00" y2="311.60" stroke="#262626" stroke-width="1"/>
<line x1="39.70" y1="308.75" x2="41.50" y2="308.75" stroke="#262626" stroke-width="1"/>
<line x1="320.80" y1="308.75" x2="319.00" y2="308.75" stroke="#262626" stroke-width="1"/>
<line x1="39.70" y1="306.24" x2="41.50" y2="306.24" stroke="#262626" stroke-width="1"/>
<line x1="320.80" y1="306.24" x2="319.00" y2="306.24" stroke="#262626" stroke-width="1"/>
<rect x="39.70" y="300.00" width="281.10" height="215.00" fill="none" stroke="#262626" stroke-width="1.25"/>
<text transform="translate(42.00,532.30) scale(1.03,1.16)" text-anchor="middle" font-size="12">-6</text>
<text transform="translate(88.85,532.30) scale(1.03,1.16)" text-anchor="middle" font-size="12">-4</text>
<text transform="translate(135.70,532.30) scale(1.03,1.16)" text-anchor="middle" font-size="12">-2</text>
<text transform="translate(182.55,532.30) scale(1.03,1.16)" text-anchor="middle" font-size="12">0</text>
<text transform="translate(229.40,532.30) scale(1.03,1.16)" text-anchor="middle" font-size="12">2</text>
<text transform="translate(276.25,532.30) scale(1.03,1.16)" text-anchor="middle" font-size="12">4</text>
<text transform="translate(323.10,532.30) scale(1.03,1.16)" text-anchor="middle" font-size="12">6</text>
<text transform="translate(32.30,508.60) scale(1.0,1.13)" text-anchor="end" font-size="12">10</text>
<text transform="translate(32.20,501.40) scale(1.0,1.1)" text-anchor="start" font-size="9">2</text>
<text transform="translate(32.30,410.50) scale(1.0,1.13)" text-anchor="end" font-size="12">10</text>
<text transform="translate(32.20,403.30) scale(1.0,1.1)" text-anchor="start" font-size="9">4</text>
<text transform="translate(32.30,312.40) scale(1.0,1.13)" text-anchor="end" font-size="12">10</text>
<text transform="translate(32.20,305.20) scale(1.0,1.1)" text-anchor="start" font-size="9">6</text>
<text x="189.20" y="548.80" text-anchor="middle" font-size="14.3">Distances(km)</text>
<text transform="translate(10.90,404.70) rotate(-90) scale(1.1,1)" text-anchor="middle" font-size="13">Apparent resistivity</text>
<text transform="translate(166.60,571.80) scale(1,1.08)" text-anchor="middle" font-size="16">(b1)</text></g>
<g><line x1="388.20" y1="485.47" x2="678.90" y2="485.47" stroke="#e6e6e6" stroke-width="1"/>
<line x1="388.20" y1="448.53" x2="678.90" y2="448.53" stroke="#e6e6e6" stroke-width="1"/>
<line x1="388.20" y1="411.60" x2="678.90" y2="411.60" stroke="#e6e6e6" stroke-width="1"/>
<line x1="388.20" y1="374.67" x2="678.90" y2="374.67" stroke="#e6e6e6" stroke-width="1"/>
<line x1="388.20" y1="337.73" x2="678.90" y2="337.73" stroke="#e6e6e6" stroke-width="1"/>
<line x1="436.65" y1="300.80" x2="436.65" y2="522.40" stroke="#e6e6e6" stroke-width="1"/>
<line x1="485.10" y1="300.80" x2="485.10" y2="522.40" stroke="#e6e6e6" stroke-width="1"/>
<line x1="533.55" y1="300.80" x2="533.55" y2="522.40" stroke="#e6e6e6" stroke-width="1"/>
<line x1="582.00" y1="300.80" x2="582.00" y2="522.40" stroke="#e6e6e6" stroke-width="1"/>
<line x1="630.45" y1="300.80" x2="630.45" y2="522.40" stroke="#e6e6e6" stroke-width="1"/></g>
<svg x="388.2" y="300.8" width="290.7" height="221.59999999999997" viewBox="388.2 300.8 290.7 221.59999999999997" overflow="hidden">
<polyline points="412.4,503.6 481.0,503.6 481.8,504.6 483.3,500.0 484.4,450.9 485.9,411.5 487.9,407.0 491.7,400.9 497.7,393.3 505.3,386.5 512.9,381.2 520.5,377.4 528.0,374.4 535.5,371.6 545.7,369.1 557.4,368.4 567.6,368.4 573.0,368.7 578.4,369.8 580.6,371.9 581.6,406.6 582.3,506.1 584.9,504.0 588.1,503.6 654.9,503.6" fill="none" stroke="#12ea12" stroke-width="1.7" stroke-linejoin="round" stroke-linecap="butt"/>
<polyline points="412.2,495.0 414.9,491.0 417.5,483.1 419.5,489.7 421.4,501.5 423.4,507.4 426.0,509.2 428.0,507.4 430.0,502.9 431.9,506.1 433.6,508.8 435.5,505.5 437.8,489.7 440.2,484.2 443.1,493.7 446.4,484.5 449.0,485.8 451.3,483.4 454.3,490.4 457.6,506.1 460.8,495.6 465.4,485.8 470.0,486.4 474.0,491.0 477.3,488.0 480.3,488.0 482.6,481.2 483.8,466.1 485.9,397.9 486.6,378.6 489.4,372.1 491.7,369.1 493.2,365.3 494.7,360.0 496.1,355.3 499.7,342.1 501.6,341.4 504.5,345.0 509.9,334.5 513.3,340.9 517.2,342.8 522.6,337.4 526.7,351.2 531.1,329.0 535.2,340.9 539.1,333.1 540.6,332.2 543.9,321.7 547.9,324.3 552.3,327.2 558.1,323.9 561.8,328.2 563.2,327.6 566.5,348.1 571.9,328.7 576.2,329.7 580.6,331.9 581.0,365.5 582.7,493.2 583.1,495.6 587.1,484.5 591.4,487.7 594.7,486.4 598.0,494.3 601.3,500.0 605.9,491.3 609.2,491.7 613.8,496.9 617.7,491.7 622.3,485.5 624.3,487.7 627.3,498.3 631.5,495.0 635.2,484.5 639.4,482.5 642.7,491.0 645.3,504.2 649.9,483.8 654.9,493.7" fill="none" stroke="#1414f2" stroke-width="1.7" stroke-linejoin="round" stroke-linecap="butt"/>
<polyline points="412.4,502.0 414.0,500.8 416.2,500.6 418.4,501.8 419.6,500.7 421.3,501.7 422.5,500.8 424.1,501.6 425.6,500.8 427.3,502.2 429.2,500.3 430.8,502.4 432.7,500.5 434.7,502.3 436.7,500.4 438.4,502.0 440.4,502.3 442.5,500.5 443.9,501.6 445.5,500.9 447.2,500.5 449.1,502.0 451.1,500.4 452.9,502.1 454.8,500.8 456.3,502.2 458.2,500.2 459.8,502.0 461.8,500.5 463.0,501.7 465.0,500.8 466.2,501.6 468.1,500.5 469.6,502.0 471.2,500.9 472.6,500.2 473.8,500.6 476.0,500.7 477.4,502.4 479.2,500.9 481.3,501.7 483.3,499.1 484.4,466.1 485.6,400.2 486.8,398.1 488.2,393.7 489.4,393.5 491.1,391.1 492.6,390.0 493.8,388.7 495.1,387.5 497.2,384.3 498.8,384.3 500.4,382.0 501.6,381.9 503.1,381.4 504.6,379.2 506.1,379.4 508.2,377.9 510.3,376.5 511.6,374.6 513.5,374.7 514.8,372.8 516.4,373.2 518.4,371.1 520.2,371.4 521.8,370.0 523.2,370.4 524.6,368.3 526.3,368.1 527.6,368.2 529.0,367.1 531.1,367.9 532.7,366.6 534.2,367.2 536.4,366.2 538.3,366.7 539.7,365.3 541.4,366.0 543.4,365.2 545.4,364.0 547.1,364.8 549.3,363.7 551.5,363.8 552.8,364.5 555.0,363.2 556.9,364.2 558.2,363.0 560.3,364.2 561.6,363.1 563.5,363.6 565.2,362.8 566.7,364.0 568.2,363.1 570.0,363.0 571.4,364.2 573.3,364.4 575.0,363.9 576.5,365.6 577.9,365.6 579.5,365.3 581.2,368.0 582.3,508.3 583.8,501.8 585.0,502.1 586.4,500.3 588.4,501.7 590.4,500.8 592.1,500.9 593.7,502.0 595.0,501.8 597.2,500.9 598.5,501.8 600.6,502.1 602.7,501.8 604.9,500.5 606.7,501.8 608.2,500.9 609.7,501.8 611.0,502.3 612.6,500.4 614.2,501.0 615.8,502.2 617.4,500.4 619.0,502.2 620.2,501.6 622.3,500.9 624.4,501.8 626.6,500.6 628.5,501.8 629.7,500.5 631.6,500.3 633.0,501.9 635.1,501.8 636.8,500.7 638.1,500.4 640.2,502.1 641.7,500.8 643.7,501.6 645.6,500.9 646.9,502.0 649.1,500.4 650.5,501.0 652.2,502.1 653.6,500.7" fill="none" stroke="#f01414" stroke-width="1.7" stroke-linejoin="round" stroke-linecap="butt"/>
</svg>
<g><line x1="436.65" y1="522.40" x2="436.65" y2="519.20" stroke="#262626" stroke-width="1.2"/>
<line x1="436.65" y1="300.80" x2="436.65" y2="304.00" stroke="#262626" stroke-width="1.2"/>
<line x1="485.10" y1="522.40" x2="485.10" y2="519.20" stroke="#262626" stroke-width="1.2"/>
<line x1="485.10" y1="300.80" x2="485.10" y2="304.00" stroke="#262626" stroke-width="1.2"/>
<line x1="533.55" y1="522.40" x2="533.55" y2="519.20" stroke="#262626" stroke-width="1.2"/>
<line x1="533.55" y1="300.80" x2="533.55" y2="304.00" stroke="#262626" stroke-width="1.2"/>
<line x1="582.00" y1="522.40" x2="582.00" y2="519.20" stroke="#262626" stroke-width="1.2"/>
<line x1="582.00" y1="300.80" x2="582.00" y2="304.00" stroke="#262626" stroke-width="1.2"/>
<line x1="630.45" y1="522.40" x2="630.45" y2="519.20" stroke="#262626" stroke-width="1.2"/>
<line x1="630.45" y1="300.80" x2="630.45" y2="304.00" stroke="#262626" stroke-width="1.2"/>
<line x1="388.20" y1="485.47" x2="391.40" y2="485.47" stroke="#262626" stroke-width="1.2"/>
<line x1="678.90" y1="485.47" x2="675.70" y2="485.47" stroke="#262626" stroke-width="1.2"/>
<line x1="388.20" y1="448.53" x2="391.40" y2="448.53" stroke="#262626" stroke-width="1.2"/>
<line x1="678.90" y1="448.53" x2="675.70" y2="448.53" stroke="#262626" stroke-width="1.2"/>
<line x1="388.20" y1="411.60" x2="391.40" y2="411.60" stroke="#262626" stroke-width="1.2"/>
<line x1="678.90" y1="411.60" x2="675.70" y2="411.60" stroke="#262626" stroke-width="1.2"/>
<line x1="388.20" y1="374.67" x2="391.40" y2="374.67" stroke="#262626" stroke-width="1.2"/>
<line x1="678.90" y1="374.67" x2="675.70" y2="374.67" stroke="#262626" stroke-width="1.2"/>
<line x1="388.20" y1="337.73" x2="391.40" y2="337.73" stroke="#262626" stroke-width="1.2"/>
<line x1="678.90" y1="337.73" x2="675.70" y2="337.73" stroke="#262626" stroke-width="1.2"/>
<rect x="388.20" y="300.80" width="290.70" height="221.60" fill="none" stroke="#262626" stroke-width="1.25"/>
<text transform="translate(390.50,540.40) scale(1.03,1.16)" text-anchor="middle" font-size="12">-6</text>
<text transform="translate(438.95,540.40) scale(1.03,1.16)" text-anchor="middle" font-size="12">-4</text>
<text transform="translate(487.40,540.40) scale(1.03,1.16)" text-anchor="middle" font-size="12">-2</text>
<text transform="translate(535.85,540.40) scale(1.03,1.16)" text-anchor="middle" font-size="12">0</text>
<text transform="translate(584.30,540.40) scale(1.03,1.16)" text-anchor="middle" font-size="12">2</text>
<text transform="translate(632.75,540.40) scale(1.03,1.16)" text-anchor="middle" font-size="12">4</text>
<text transform="translate(681.20,540.40) scale(1.03,1.16)" text-anchor="middle" font-size="12">6</text>
<text transform="translate(385.70,527.70) scale(1.0,1.1)" text-anchor="end" font-size="12">40</text>
<text transform="translate(385.70,490.77) scale(1.0,1.1)" text-anchor="end" font-size="12">50</text>
<text transform="translate(385.70,453.83) scale(1.0,1.1)" text-anchor="end" font-size="12">60</text>
<text transform="translate(385.70,416.90) scale(1.0,1.1)" text-anchor="end" font-size="12">70</text>
<text transform="translate(385.70,379.97) scale(1.0,1.1)" text-anchor="end" font-size="12">80</text>
<text transform="translate(385.70,343.03) scale(1.0,1.1)" text-anchor="end" font-size="12">90</text>
<text transform="translate(385.70,306.10) scale(1.0,1.1)" text-anchor="end" font-size="12">100</text>
<text x="542.60" y="557.70" text-anchor="middle" font-size="14.6">Distances(km)</text>
<text transform="translate(358.20,409.00) rotate(-90) scale(1,1)" text-anchor="middle" font-size="14.2">Phase</text>
<text transform="translate(539.10,579.70) scale(1,1.08)" text-anchor="middle" font-size="16">(b2)</text></g>
<g><line x1="39.70" y1="812.69" x2="320.40" y2="812.69" stroke="#cfcfcf" stroke-width="0.8" stroke-dasharray="0.9 1.7"/>
<line x1="39.70" y1="808.58" x2="320.40" y2="808.58" stroke="#cfcfcf" stroke-width="0.8" stroke-dasharray="0.9 1.7"/>
<line x1="39.70" y1="805.39" x2="320.40" y2="805.39" stroke="#cfcfcf" stroke-width="0.8" stroke-dasharray="0.9 1.7"/>
<line x1="39.70" y1="802.79" x2="320.40" y2="802.79" stroke="#cfcfcf" stroke-width="0.8" stroke-dasharray="0.9 1.7"/>
<line x1="39.70" y1="800.59" x2="320.40" y2="800.59" stroke="#cfcfcf" stroke-width="0.8" stroke-dasharray="0.9 1.7"/>
<line x1="39.70" y1="798.69" x2="320.40" y2="798.69" stroke="#cfcfcf" stroke-width="0.8" stroke-dasharray="0.9 1.7"/>
<line x1="39.70" y1="797.00" x2="320.40" y2="797.00" stroke="#cfcfcf" stroke-width="0.8" stroke-dasharray="0.9 1.7"/>
<line x1="39.70" y1="785.61" x2="320.40" y2="785.61" stroke="#cfcfcf" stroke-width="0.8" stroke-dasharray="0.9 1.7"/>
<line x1="39.70" y1="779.82" x2="320.40" y2="779.82" stroke="#cfcfcf" stroke-width="0.8" stroke-dasharray="0.9 1.7"/>
<line x1="39.70" y1="775.71" x2="320.40" y2="775.71" stroke="#cfcfcf" stroke-width="0.8" stroke-dasharray="0.9 1.7"/>
<line x1="39.70" y1="772.52" x2="320.40" y2="772.52" stroke="#cfcfcf" stroke-width="0.8" stroke-dasharray="0.9 1.7"/>
<line x1="39.70" y1="769.92" x2="320.40" y2="769.92" stroke="#cfcfcf" stroke-width="0.8" stroke-dasharray="0.9 1.7"/>
<line x1="39.70" y1="767.72" x2="320.40" y2="767.72" stroke="#cfcfcf" stroke-width="0.8" stroke-dasharray="0.9 1.7"/>
<line x1="39.70" y1="765.82" x2="320.40" y2="765.82" stroke="#cfcfcf" stroke-width="0.8" stroke-dasharray="0.9 1.7"/>
<line x1="39.70" y1="764.13" x2="320.40" y2="764.13" stroke="#cfcfcf" stroke-width="0.8" stroke-dasharray="0.9 1.7"/>
<line x1="39.70" y1="762.63" x2="320.40" y2="762.63" stroke="#cfcfcf" stroke-width="0.8" stroke-dasharray="0.9 1.7"/>
<line x1="39.70" y1="752.74" x2="320.40" y2="752.74" stroke="#cfcfcf" stroke-width="0.8" stroke-dasharray="0.9 1.7"/>
<line x1="39.70" y1="746.95" x2="320.40" y2="746.95" stroke="#cfcfcf" stroke-width="0.8" stroke-dasharray="0.9 1.7"/>
<line x1="39.70" y1="742.84" x2="320.40" y2="742.84" stroke="#cfcfcf" stroke-width="0.8" stroke-dasharray="0.9 1.7"/>
<line x1="39.70" y1="739.65" x2="320.40" y2="739.65" stroke="#cfcfcf" stroke-width="0.8" stroke-dasharray="0.9 1.7"/>
<line x1="39.70" y1="737.05" x2="320.40" y2="737.05" stroke="#cfcfcf" stroke-width="0.8" stroke-dasharray="0.9 1.7"/>
<line x1="39.70" y1="734.85" x2="320.40" y2="734.85" stroke="#cfcfcf" stroke-width="0.8" stroke-dasharray="0.9 1.7"/>
<line x1="39.70" y1="732.95" x2="320.40" y2="732.95" stroke="#cfcfcf" stroke-width="0.8" stroke-dasharray="0.9 1.7"/>
<line x1="39.70" y1="731.26" x2="320.40" y2="731.26" stroke="#cfcfcf" stroke-width="0.8" stroke-dasharray="0.9 1.7"/>
<line x1="39.70" y1="719.87" x2="320.40" y2="719.87" stroke="#cfcfcf" stroke-width="0.8" stroke-dasharray="0.9 1.7"/>
<line x1="39.70" y1="714.08" x2="320.40" y2="714.08" stroke="#cfcfcf" stroke-width="0.8" stroke-dasharray="0.9 1.7"/>
<line x1="39.70" y1="709.97" x2="320.40" y2="709.97" stroke="#cfcfcf" stroke-width="0.8" stroke-dasharray="0.9 1.7"/>
<line x1="39.70" y1="706.78" x2="320.40" y2="706.78" stroke="#cfcfcf" stroke-width="0.8" stroke-dasharray="0.9 1.7"/>
<line x1="39.70" y1="704.18" x2="320.40" y2="704.18" stroke="#cfcfcf" stroke-width="0.8" stroke-dasharray="0.9 1.7"/>
<line x1="39.70" y1="701.98" x2="320.40" y2="701.98" stroke="#cfcfcf" stroke-width="0.8" stroke-dasharray="0.9 1.7"/>
<line x1="39.70" y1="700.08" x2="320.40" y2="700.08" stroke="#cfcfcf" stroke-width="0.8" stroke-dasharray="0.9 1.7"/>
<line x1="39.70" y1="698.39" x2="320.40" y2="698.39" stroke="#cfcfcf" stroke-width="0.8" stroke-dasharray="0.9 1.7"/>
<line x1="39.70" y1="696.89" x2="320.40" y2="696.89" stroke="#cfcfcf" stroke-width="0.8" stroke-dasharray="0.9 1.7"/>
<line x1="39.70" y1="687.00" x2="320.40" y2="687.00" stroke="#cfcfcf" stroke-width="0.8" stroke-dasharray="0.9 1.7"/>
<line x1="39.70" y1="681.21" x2="320.40" y2="681.21" stroke="#cfcfcf" stroke-width="0.8" stroke-dasharray="0.9 1.7"/>
<line x1="39.70" y1="677.10" x2="320.40" y2="677.10" stroke="#cfcfcf" stroke-width="0.8" stroke-dasharray="0.9 1.7"/>
<line x1="39.70" y1="673.91" x2="320.40" y2="673.91" stroke="#cfcfcf" stroke-width="0.8" stroke-dasharray="0.9 1.7"/>
<line x1="39.70" y1="671.31" x2="320.40" y2="671.31" stroke="#cfcfcf" stroke-width="0.8" stroke-dasharray="0.9 1.7"/>
<line x1="39.70" y1="669.11" x2="320.40" y2="669.11" stroke="#cfcfcf" stroke-width="0.8" stroke-dasharray="0.9 1.7"/>
<line x1="39.70" y1="667.21" x2="320.40" y2="667.21" stroke="#cfcfcf" stroke-width="0.8" stroke-dasharray="0.9 1.7"/>
<line x1="39.70" y1="665.52" x2="320.40" y2="665.52" stroke="#cfcfcf" stroke-width="0.8" stroke-dasharray="0.9 1.7"/>
<line x1="39.70" y1="654.13" x2="320.40" y2="654.13" stroke="#cfcfcf" stroke-width="0.8" stroke-dasharray="0.9 1.7"/>
<line x1="39.70" y1="648.34" x2="320.40" y2="648.34" stroke="#cfcfcf" stroke-width="0.8" stroke-dasharray="0.9 1.7"/>
<line x1="39.70" y1="644.23" x2="320.40" y2="644.23" stroke="#cfcfcf" stroke-width="0.8" stroke-dasharray="0.9 1.7"/>
<line x1="39.70" y1="641.04" x2="320.40" y2="641.04" stroke="#cfcfcf" stroke-width="0.8" stroke-dasharray="0.9 1.7"/>
<line x1="39.70" y1="638.44" x2="320.40" y2="638.44" stroke="#cfcfcf" stroke-width="0.8" stroke-dasharray="0.9 1.7"/>
<line x1="39.70" y1="636.24" x2="320.40" y2="636.24" stroke="#cfcfcf" stroke-width="0.8" stroke-dasharray="0.9 1.7"/>
<line x1="39.70" y1="634.34" x2="320.40" y2="634.34" stroke="#cfcfcf" stroke-width="0.8" stroke-dasharray="0.9 1.7"/>
<line x1="39.70" y1="632.65" x2="320.40" y2="632.65" stroke="#cfcfcf" stroke-width="0.8" stroke-dasharray="0.9 1.7"/>
<line x1="39.70" y1="631.15" x2="320.40" y2="631.15" stroke="#cfcfcf" stroke-width="0.8" stroke-dasharray="0.9 1.7"/>
<line x1="39.70" y1="621.26" x2="320.40" y2="621.26" stroke="#cfcfcf" stroke-width="0.8" stroke-dasharray="0.9 1.7"/>
<line x1="39.70" y1="615.47" x2="320.40" y2="615.47" stroke="#cfcfcf" stroke-width="0.8" stroke-dasharray="0.9 1.7"/>
<line x1="39.70" y1="611.36" x2="320.40" y2="611.36" stroke="#cfcfcf" stroke-width="0.8" stroke-dasharray="0.9 1.7"/>
<line x1="39.70" y1="608.17" x2="320.40" y2="608.17" stroke="#cfcfcf" stroke-width="0.8" stroke-dasharray="0.9 1.7"/>
<line x1="39.70" y1="605.57" x2="320.40" y2="605.57" stroke="#cfcfcf" stroke-width="0.8" stroke-dasharray="0.9 1.7"/>
<line x1="39.70" y1="603.37" x2="320.40" y2="603.37" stroke="#cfcfcf" stroke-width="0.8" stroke-dasharray="0.9 1.7"/>
<line x1="39.70" y1="601.47" x2="320.40" y2="601.47" stroke="#cfcfcf" stroke-width="0.8" stroke-dasharray="0.9 1.7"/>
<line x1="39.70" y1="599.78" x2="320.40" y2="599.78" stroke="#cfcfcf" stroke-width="0.8" stroke-dasharray="0.9 1.7"/>
<line x1="39.70" y1="795.50" x2="320.40" y2="795.50" stroke="#e6e6e6" stroke-width="1"/>
<line x1="39.70" y1="729.76" x2="320.40" y2="729.76" stroke="#e6e6e6" stroke-width="1"/>
<line x1="39.70" y1="664.02" x2="320.40" y2="664.02" stroke="#e6e6e6" stroke-width="1"/>
<line x1="39.70" y1="598.28" x2="320.40" y2="598.28" stroke="#e6e6e6" stroke-width="1"/>
<line x1="86.48" y1="598.30" x2="86.48" y2="812.80" stroke="#e6e6e6" stroke-width="1"/>
<line x1="133.27" y1="598.30" x2="133.27" y2="812.80" stroke="#e6e6e6" stroke-width="1"/>
<line x1="180.05" y1="598.30" x2="180.05" y2="812.80" stroke="#e6e6e6" stroke-width="1"/>
<line x1="226.83" y1="598.30" x2="226.83" y2="812.80" stroke="#e6e6e6" stroke-width="1"/>
<line x1="273.62" y1="598.30" x2="273.62" y2="812.80" stroke="#e6e6e6" stroke-width="1"/></g>
<svg x="39.7" y="598.3" width="280.7" height="214.5" viewBox="39.7 598.3 280.7 214.5" overflow="hidden">
<polyline points="63.1,795.5 132.9,795.5 133.6,624.0 135.2,626.0 137.0,631.5 139.6,639.5 144.5,649.2 149.3,656.0 154.2,661.9 162.0,669.6 168.8,675.4 175.6,680.3 180.0,682.9 188.5,688.1 196.9,693.7 205.4,698.7 213.8,704.3 219.4,708.5 222.8,713.0 224.8,720.0 225.9,734.0 227.1,795.5 297.5,795.5" fill="none" stroke="#12ea12" stroke-width="1.0" stroke-linejoin="round" stroke-linecap="butt"/>
<polyline points="62.2,793.1 65.5,794.2 68.1,794.2 71.4,792.9 74.7,793.8 79.3,794.2 82.6,793.1 86.5,794.2 91.1,793.4 93.1,794.5 95.7,793.1 104.9,792.9 107.3,792.1 109.5,793.8 116.8,793.1 120.7,794.2 124.6,793.1 128.6,794.2 132.2,794.2 133.2,700.0 133.8,616.0 135.7,621.5 140.0,638.3 144.5,647.0 148.8,653.7 153.0,659.0 157.5,663.8 162.0,668.0 166.3,671.7 171.0,675.0 175.0,677.4 179.0,680.0 182.8,681.0 186.0,683.5 189.9,686.8 195.5,688.9 199.7,692.4 203.9,693.1 208.2,696.0 212.4,699.1 218.0,703.7 222.3,710.0 224.8,714.3 226.0,730.0 227.3,793.8 228.0,793.8 230.5,792.9 234.5,791.6 237.7,793.8 243.7,792.5 247.6,792.5 251.5,793.4 255.5,793.1 259.4,792.5 262.0,793.1 264.7,791.6 268.6,792.9 272.6,792.6 277.8,793.1 281.8,792.9 284.4,794.2 287.0,793.4 292.3,793.7 294.9,794.2 297.5,793.1" fill="none" stroke="#1414f2" stroke-width="1.7" stroke-linejoin="round" stroke-linecap="butt"/>
<polyline points="63.1,795.5 132.9,795.5 133.6,616.5 134.7,622.3 136.7,630.1 139.6,638.9 144.5,648.6 149.3,655.4 154.2,661.3 162.0,669.1 168.8,674.9 175.6,679.8 180.0,682.4 188.5,687.6 196.9,693.2 205.4,698.2 213.8,703.8 219.4,708.0 223.0,712.3 225.1,719.3 226.2,733.4 227.2,795.5 297.5,795.5" fill="none" stroke="#f01414" stroke-width="1.7" stroke-linejoin="round" stroke-linecap="butt"/>
</svg>
<g><line x1="86.48" y1="812.80" x2="86.48" y2="809.60" stroke="#262626" stroke-width="1.2"/>
<line x1="86.48" y1="598.30" x2="86.48" y2="601.50" stroke="#262626" stroke-width="1.2"/>
<line x1="133.27" y1="812.80" x2="133.27" y2="809.60" stroke="#262626" stroke-width="1.2"/>
<line x1="133.27" y1="598.30" x2="133.27" y2="601.50" stroke="#262626" stroke-width="1.2"/>
<line x1="180.05" y1="812.80" x2="180.05" y2="809.60" stroke="#262626" stroke-width="1.2"/>
<line x1="180.05" y1="598.30" x2="180.05" y2="601.50" stroke="#262626" stroke-width="1.2"/>
<line x1="226.83" y1="812.80" x2="226.83" y2="809.60" stroke="#262626" stroke-width="1.2"/>
<line x1="226.83" y1="598.30" x2="226.83" y2="601.50" stroke="#262626" stroke-width="1.2"/>
<line x1="273.62" y1="812.80" x2="273.62" y2="809.60" stroke="#262626" stroke-width="1.2"/>
<line x1="273.62" y1="598.30" x2="273.62" y2="601.50" stroke="#262626" stroke-width="1.2"/>
<line x1="39.70" y1="795.50" x2="42.90" y2="795.50" stroke="#262626" stroke-width="1.2"/>
<line x1="320.40" y1="795.50" x2="317.20" y2="795.50" stroke="#262626" stroke-width="1.2"/>
<line x1="39.70" y1="729.76" x2="42.90" y2="729.76" stroke="#262626" stroke-width="1.2"/>
<line x1="320.40" y1="729.76" x2="317.20" y2="729.76" stroke="#262626" stroke-width="1.2"/>
<line x1="39.70" y1="664.02" x2="42.90" y2="664.02" stroke="#262626" stroke-width="1.2"/>
<line x1="320.40" y1="664.02" x2="317.20" y2="664.02" stroke="#262626" stroke-width="1.2"/>
<line x1="39.70" y1="598.28" x2="42.90" y2="598.28" stroke="#262626" stroke-width="1.2"/>
<line x1="320.40" y1="598.28" x2="317.20" y2="598.28" stroke="#262626" stroke-width="1.2"/>
<line x1="39.70" y1="812.69" x2="41.50" y2="812.69" stroke="#262626" stroke-width="1"/>
<line x1="320.40" y1="812.69" x2="318.60" y2="812.69" stroke="#262626" stroke-width="1"/>
<line x1="39.70" y1="808.58" x2="41.50" y2="808.58" stroke="#262626" stroke-width="1"/>
<line x1="320.40" y1="808.58" x2="318.60" y2="808.58" stroke="#262626" stroke-width="1"/>
<line x1="39.70" y1="805.39" x2="41.50" y2="805.39" stroke="#262626" stroke-width="1"/>
<line x1="320.40" y1="805.39" x2="318.60" y2="805.39" stroke="#262626" stroke-width="1"/>
<line x1="39.70" y1="802.79" x2="41.50" y2="802.79" stroke="#262626" stroke-width="1"/>
<line x1="320.40" y1="802.79" x2="318.60" y2="802.79" stroke="#262626" stroke-width="1"/>
<line x1="39.70" y1="800.59" x2="41.50" y2="800.59" stroke="#262626" stroke-width="1"/>
<line x1="320.40" y1="800.59" x2="318.60" y2="800.59" stroke="#262626" stroke-width="1"/>
<line x1="39.70" y1="798.69" x2="41.50" y2="798.69" stroke="#262626" stroke-width="1"/>
<line x1="320.40" y1="798.69" x2="318.60" y2="798.69" stroke="#262626" stroke-width="1"/>
<line x1="39.70" y1="797.00" x2="41.50" y2="797.00" stroke="#262626" stroke-width="1"/>
<line x1="320.40" y1="797.00" x2="318.60" y2="797.00" stroke="#262626" stroke-width="1"/>
<line x1="39.70" y1="785.61" x2="41.50" y2="785.61" stroke="#262626" stroke-width="1"/>
<line x1="320.40" y1="785.61" x2="318.60" y2="785.61" stroke="#262626" stroke-width="1"/>
<line x1="39.70" y1="779.82" x2="41.50" y2="779.82" stroke="#262626" stroke-width="1"/>
<line x1="320.40" y1="779.82" x2="318.60" y2="779.82" stroke="#262626" stroke-width="1"/>
<line x1="39.70" y1="775.71" x2="41.50" y2="775.71" stroke="#262626" stroke-width="1"/>
<line x1="320.40" y1="775.71" x2="318.60" y2="775.71" stroke="#262626" stroke-width="1"/>
<line x1="39.70" y1="772.52" x2="41.50" y2="772.52" stroke="#262626" stroke-width="1"/>
<line x1="320.40" y1="772.52" x2="318.60" y2="772.52" stroke="#262626" stroke-width="1"/>
<line x1="39.70" y1="769.92" x2="41.50" y2="769.92" stroke="#262626" stroke-width="1"/>
<line x1="320.40" y1="769.92" x2="318.60" y2="769.92" stroke="#262626" stroke-width="1"/>
<line x1="39.70" y1="767.72" x2="41.50" y2="767.72" stroke="#262626" stroke-width="1"/>
<line x1="320.40" y1="767.72" x2="318.60" y2="767.72" stroke="#262626" stroke-width="1"/>
<line x1="39.70" y1="765.82" x2="41.50" y2="765.82" stroke="#262626" stroke-width="1"/>
<line x1="320.40" y1="765.82" x2="318.60" y2="765.82" stroke="#262626" stroke-width="1"/>
<line x1="39.70" y1="764.13" x2="41.50" y2="764.13" stroke="#262626" stroke-width="1"/>
<line x1="320.40" y1="764.13" x2="318.60" y2="764.13" stroke="#262626" stroke-width="1"/>
<line x1="39.70" y1="762.63" x2="41.50" y2="762.63" stroke="#262626" stroke-width="1"/>
<line x1="320.40" y1="762.63" x2="318.60" y2="762.63" stroke="#262626" stroke-width="1"/>
<line x1="39.70" y1="752.74" x2="41.50" y2="752.74" stroke="#262626" stroke-width="1"/>
<line x1="320.40" y1="752.74" x2="318.60" y2="752.74" stroke="#262626" stroke-width="1"/>
<line x1="39.70" y1="746.95" x2="41.50" y2="746.95" stroke="#262626" stroke-width="1"/>
<line x1="320.40" y1="746.95" x2="318.60" y2="746.95" stroke="#262626" stroke-width="1"/>
<line x1="39.70" y1="742.84" x2="41.50" y2="742.84" stroke="#262626" stroke-width="1"/>
<line x1="320.40" y1="742.84" x2="318.60" y2="742.84" stroke="#262626" stroke-width="1"/>
<line x1="39.70" y1="739.65" x2="41.50" y2="739.65" stroke="#262626" stroke-width="1"/>
<line x1="320.40" y1="739.65" x2="318.60" y2="739.65" stroke="#262626" stroke-width="1"/>
<line x1="39.70" y1="737.05" x2="41.50" y2="737.05" stroke="#262626" stroke-width="1"/>
<line x1="320.40" y1="737.05" x2="318.60" y2="737.05" stroke="#262626" stroke-width="1"/>
<line x1="39.70" y1="734.85" x2="41.50" y2="734.85" stroke="#262626" stroke-width="1"/>
<line x1="320.40" y1="734.85" x2="318.60" y2="734.85" stroke="#262626" stroke-width="1"/>
<line x1="39.70" y1="732.95" x2="41.50" y2="732.95" stroke="#262626" stroke-width="1"/>
<line x1="320.40" y1="732.95" x2="318.60" y2="732.95" stroke="#262626" stroke-width="1"/>
<line x1="39.70" y1="731.26" x2="41.50" y2="731.26" stroke="#262626" stroke-width="1"/>
<line x1="320.40" y1="731.26" x2="318.60" y2="731.26" stroke="#262626" stroke-width="1"/>
<line x1="39.70" y1="719.87" x2="41.50" y2="719.87" stroke="#262626" stroke-width="1"/>
<line x1="320.40" y1="719.87" x2="318.60" y2="719.87" stroke="#262626" stroke-width="1"/>
<line x1="39.70" y1="714.08" x2="41.50" y2="714.08" stroke="#262626" stroke-width="1"/>
<line x1="320.40" y1="714.08" x2="318.60" y2="714.08" stroke="#262626" stroke-width="1"/>
<line x1="39.70" y1="709.97" x2="41.50" y2="709.97" stroke="#262626" stroke-width="1"/>
<line x1="320.40" y1="709.97" x2="318.60" y2="709.97" stroke="#262626" stroke-width="1"/>
<line x1="39.70" y1="706.78" x2="41.50" y2="706.78" stroke="#262626" stroke-width="1"/>
<line x1="320.40" y1="706.78" x2="318.60" y2="706.78" stroke="#262626" stroke-width="1"/>
<line x1="39.70" y1="704.18" x2="41.50" y2="704.18" stroke="#262626" stroke-width="1"/>
<line x1="320.40" y1="704.18" x2="318.60" y2="704.18" stroke="#262626" stroke-width="1"/>
<line x1="39.70" y1="701.98" x2="41.50" y2="701.98" stroke="#262626" stroke-width="1"/>
<line x1="320.40" y1="701.98" x2="318.60" y2="701.98" stroke="#262626" stroke-width="1"/>
<line x1="39.70" y1="700.08" x2="41.50" y2="700.08" stroke="#262626" stroke-width="1"/>
<line x1="320.40" y1="700.08" x2="318.60" y2="700.08" stroke="#262626" stroke-width="1"/>
<line x1="39.70" y1="698.39" x2="41.50" y2="698.39" stroke="#262626" stroke-width="1"/>
<line x1="320.40" y1="698.39" x2="318.60" y2="698.39" stroke="#262626" stroke-width="1"/>
<line x1="39.70" y1="696.89" x2="41.50" y2="696.89" stroke="#262626" stroke-width="1"/>
<line x1="320.40" y1="696.89" x2="318.60" y2="696.89" stroke="#262626" stroke-width="1"/>
<line x1="39.70" y1="687.00" x2="41.50" y2="687.00" stroke="#262626" stroke-width="1"/>
<line x1="320.40" y1="687.00" x2="318.60" y2="687.00" stroke="#262626" stroke-width="1"/>
<line x1="39.70" y1="681.21" x2="41.50" y2="681.21" stroke="#262626" stroke-width="1"/>
<line x1="320.40" y1="681.21" x2="318.60" y2="681.21" stroke="#262626" stroke-width="1"/>
<line x1="39.70" y1="677.10" x2="41.50" y2="677.10" stroke="#262626" stroke-width="1"/>
<line x1="320.40" y1="677.10" x2="318.60" y2="677.10" stroke="#262626" stroke-width="1"/>
<line x1="39.70" y1="673.91" x2="41.50" y2="673.91" stroke="#262626" stroke-width="1"/>
<line x1="320.40" y1="673.91" x2="318.60" y2="673.91" stroke="#262626" stroke-width="1"/>
<line x1="39.70" y1="671.31" x2="41.50" y2="671.31" stroke="#262626" stroke-width="1"/>
<line x1="320.40" y1="671.31" x2="318.60" y2="671.31" stroke="#262626" stroke-width="1"/>
<line x1="39.70" y1="669.11" x2="41.50" y2="669.11" stroke="#262626" stroke-width="1"/>
<line x1="320.40" y1="669.11" x2="318.60" y2="669.11" stroke="#262626" stroke-width="1"/>
<line x1="39.70" y1="667.21" x2="41.50" y2="667.21" stroke="#262626" stroke-width="1"/>
<line x1="320.40" y1="667.21" x2="318.60" y2="667.21" stroke="#262626" stroke-width="1"/>
<line x1="39.70" y1="665.52" x2="41.50" y2="665.52" stroke="#262626" stroke-width="1"/>
<line x1="320.40" y1="665.52" x2="318.60" y2="665.52" stroke="#262626" stroke-width="1"/>
<line x1="39.70" y1="654.13" x2="41.50" y2="654.13" stroke="#262626" stroke-width="1"/>
<line x1="320.40" y1="654.13" x2="318.60" y2="654.13" stroke="#262626" stroke-width="1"/>
<line x1="39.70" y1="648.34" x2="41.50" y2="648.34" stroke="#262626" stroke-width="1"/>
<line x1="320.40" y1="648.34" x2="318.60" y2="648.34" stroke="#262626" stroke-width="1"/>
<line x1="39.70" y1="644.23" x2="41.50" y2="644.23" stroke="#262626" stroke-width="1"/>
<line x1="320.40" y1="644.23" x2="318.60" y2="644.23" stroke="#262626" stroke-width="1"/>
<line x1="39.70" y1="641.04" x2="41.50" y2="641.04" stroke="#262626" stroke-width="1"/>
<line x1="320.40" y1="641.04" x2="318.60" y2="641.04" stroke="#262626" stroke-width="1"/>
<line x1="39.70" y1="638.44" x2="41.50" y2="638.44" stroke="#262626" stroke-width="1"/>
<line x1="320.40" y1="638.44" x2="318.60" y2="638.44" stroke="#262626" stroke-width="1"/>
<line x1="39.70" y1="636.24" x2="41.50" y2="636.24" stroke="#262626" stroke-width="1"/>
<line x1="320.40" y1="636.24" x2="318.60" y2="636.24" stroke="#262626" stroke-width="1"/>
<line x1="39.70" y1="634.34" x2="41.50" y2="634.34" stroke="#262626" stroke-width="1"/>
<line x1="320.40" y1="634.34" x2="318.60" y2="634.34" stroke="#262626" stroke-width="1"/>
<line x1="39.70" y1="632.65" x2="41.50" y2="632.65" stroke="#262626" stroke-width="1"/>
<line x1="320.40" y1="632.65" x2="318.60" y2="632.65" stroke="#262626" stroke-width="1"/>
<line x1="39.70" y1="631.15" x2="41.50" y2="631.15" stroke="#262626" stroke-width="1"/>
<line x1="320.40" y1="631.15" x2="318.60" y2="631.15" stroke="#262626" stroke-width="1"/>
<line x1="39.70" y1="621.26" x2="41.50" y2="621.26" stroke="#262626" stroke-width="1"/>
<line x1="320.40" y1="621.26" x2="318.60" y2="621.26" stroke="#262626" stroke-width="1"/>
<line x1="39.70" y1="615.47" x2="41.50" y2="615.47" stroke="#262626" stroke-width="1"/>
<line x1="320.40" y1="615.47" x2="318.60" y2="615.47" stroke="#262626" stroke-width="1"/>
<line x1="39.70" y1="611.36" x2="41.50" y2="611.36" stroke="#262626" stroke-width="1"/>
<line x1="320.40" y1="611.36" x2="318.60" y2="611.36" stroke="#262626" stroke-width="1"/>
<line x1="39.70" y1="608.17" x2="41.50" y2="608.17" stroke="#262626" stroke-width="1"/>
<line x1="320.40" y1="608.17" x2="318.60" y2="608.17" stroke="#262626" stroke-width="1"/>
<line x1="39.70" y1="605.57" x2="41.50" y2="605.57" stroke="#262626" stroke-width="1"/>
<line x1="320.40" y1="605.57" x2="318.60" y2="605.57" stroke="#262626" stroke-width="1"/>
<line x1="39.70" y1="603.37" x2="41.50" y2="603.37" stroke="#262626" stroke-width="1"/>
<line x1="320.40" y1="603.37" x2="318.60" y2="603.37" stroke="#262626" stroke-width="1"/>
<line x1="39.70" y1="601.47" x2="41.50" y2="601.47" stroke="#262626" stroke-width="1"/>
<line x1="320.40" y1="601.47" x2="318.60" y2="601.47" stroke="#262626" stroke-width="1"/>
<line x1="39.70" y1="599.78" x2="41.50" y2="599.78" stroke="#262626" stroke-width="1"/>
<line x1="320.40" y1="599.78" x2="318.60" y2="599.78" stroke="#262626" stroke-width="1"/>
<rect x="39.70" y="598.30" width="280.70" height="214.50" fill="none" stroke="#262626" stroke-width="1.25"/>
<text transform="translate(42.00,830.20) scale(1.03,1.16)" text-anchor="middle" font-size="12">-6</text>
<text transform="translate(88.78,830.20) scale(1.03,1.16)" text-anchor="middle" font-size="12">-4</text>
<text transform="translate(135.57,830.20) scale(1.03,1.16)" text-anchor="middle" font-size="12">-2</text>
<text transform="translate(182.35,830.20) scale(1.03,1.16)" text-anchor="middle" font-size="12">0</text>
<text transform="translate(229.13,830.20) scale(1.03,1.16)" text-anchor="middle" font-size="12">2</text>
<text transform="translate(275.92,830.20) scale(1.03,1.16)" text-anchor="middle" font-size="12">4</text>
<text transform="translate(322.70,830.20) scale(1.03,1.16)" text-anchor="middle" font-size="12">6</text>
<text transform="translate(32.30,803.90) scale(1.0,1.13)" text-anchor="end" font-size="12">10</text>
<text transform="translate(32.20,796.70) scale(1.0,1.1)" text-anchor="start" font-size="9">2</text>
<text transform="translate(32.30,738.16) scale(1.0,1.13)" text-anchor="end" font-size="12">10</text>
<text transform="translate(32.20,730.96) scale(1.0,1.1)" text-anchor="start" font-size="9">4</text>
<text transform="translate(32.30,672.42) scale(1.0,1.13)" text-anchor="end" font-size="12">10</text>
<text transform="translate(32.20,665.22) scale(1.0,1.1)" text-anchor="start" font-size="9">6</text>
<text transform="translate(32.30,606.68) scale(1.0,1.13)" text-anchor="end" font-size="12">10</text>
<text transform="translate(32.20,599.48) scale(1.0,1.1)" text-anchor="start" font-size="9">8</text>
<text x="188.80" y="847.00" text-anchor="middle" font-size="14.3">Distances(km)</text>
<text transform="translate(10.90,703.00) rotate(-90) scale(1.1,1)" text-anchor="middle" font-size="13">Apparent resistivity</text>
<text transform="translate(173.10,868.10) scale(1,1.08)" text-anchor="middle" font-size="16">(c1)</text></g>
<g><line x1="388.00" y1="779.18" x2="671.90" y2="779.18" stroke="#e6e6e6" stroke-width="1"/>
<line x1="388.00" y1="743.07" x2="671.90" y2="743.07" stroke="#e6e6e6" stroke-width="1"/>
<line x1="388.00" y1="706.95" x2="671.90" y2="706.95" stroke="#e6e6e6" stroke-width="1"/>
<line x1="388.00" y1="670.83" x2="671.90" y2="670.83" stroke="#e6e6e6" stroke-width="1"/>
<line x1="388.00" y1="634.72" x2="671.90" y2="634.72" stroke="#e6e6e6" stroke-width="1"/>
<line x1="435.32" y1="598.60" x2="435.32" y2="815.30" stroke="#e6e6e6" stroke-width="1"/>
<line x1="482.63" y1="598.60" x2="482.63" y2="815.30" stroke="#e6e6e6" stroke-width="1"/>
<line x1="529.95" y1="598.60" x2="529.95" y2="815.30" stroke="#e6e6e6" stroke-width="1"/>
<line x1="577.27" y1="598.60" x2="577.27" y2="815.30" stroke="#e6e6e6" stroke-width="1"/>
<line x1="624.58" y1="598.60" x2="624.58" y2="815.30" stroke="#e6e6e6" stroke-width="1"/></g>
<svg x="388.0" y="598.6" width="283.9" height="216.69999999999993" viewBox="388.0 598.6 283.9 216.69999999999993" overflow="hidden">
<line x1="577.3" y1="599" x2="577.3" y2="634" stroke="#9a9a9a" stroke-width="1"/>
<polyline points="411.4,796.5 476.5,796.6 477.6,798.6 479.3,790.0 480.5,786.0 482.5,803.9 484.9,802.7 485.5,790.0 486.9,747.5 489.5,729.4 492.7,712.5 497.3,698.2 502.5,687.8 507.7,680.5 513.6,673.3 523.8,665.3 535.5,660.1 547.2,657.2 558.8,656.2 567.6,656.5 572.1,657.5 574.8,659.4 575.9,663.2 576.6,700.0 577.6,799.7 580.0,796.3 648.4,796.3" fill="none" stroke="#12ea12" stroke-width="1.7" stroke-linejoin="round" stroke-linecap="butt"/>
<polyline points="411.4,785.1 413.2,785.1 415.3,784.0 417.3,788.0 419.6,784.5 422.3,792.1 425.8,782.4 427.8,784.8 430.1,782.2 432.8,781.6 435.4,787.1 437.7,782.2 439.8,776.9 441.4,783.4 443.3,791.0 445.3,781.6 448.0,782.8 451.1,780.4 453.8,784.0 456.4,777.5 459.3,784.0 462.2,785.7 464.8,781.3 468.2,779.9 469.7,782.8 472.0,796.9 473.2,793.4 475.2,784.0 476.7,784.0 477.6,783.1 479.0,786.9 480.5,780.5 481.0,770.9 482.3,768.3 484.3,738.4 486.2,715.1 487.5,704.0 489.5,702.1 490.8,694.3 493.1,682.6 495.3,684.9 497.3,680.0 498.2,663.8 502.6,651.4 504.8,653.9 509.2,649.9 511.4,652.8 515.0,648.5 517.7,642.6 520.1,643.6 523.8,636.4 526.7,635.8 530.4,639.0 532.8,629.5 536.2,630.2 539.1,639.0 544.2,626.6 547.9,626.1 551.2,644.8 554.5,625.8 557.1,622.9 560.0,633.6 563.0,626.8 566.1,623.8 569.1,627.2 570.2,627.6 572.1,638.9 573.6,637.4 575.2,630.6 576.3,632.9 576.6,656.0 577.6,780.0 578.7,794.8 580.5,793.5 583.0,793.8 585.5,778.4 588.0,789.8 590.5,783.0 592.3,783.6 594.2,781.7 596.1,782.4 598.8,776.8 602.3,785.5 604.7,782.4 607.8,794.2 610.3,784.9 612.8,786.1 614.9,777.4 617.8,786.1 620.2,783.6 623.3,774.7 625.8,778.6 628.1,777.2 630.5,779.6 632.7,777.4 635.1,784.6 638.0,778.4 641.0,783.6 643.2,783.0 645.7,787.3 648.4,785.5" fill="none" stroke="#1414f2" stroke-width="1.7" stroke-linejoin="round" stroke-linecap="butt"/>
<polyline points="411.4,792.1 412.2,795.0 413.5,795.7 415.4,795.4 416.9,795.6 418.8,794.8 420.2,795.4 422.0,795.5 424.2,794.6 426.2,795.7 427.5,795.6 429.6,795.8 431.1,794.8 433.3,795.6 434.8,795.8 436.3,794.4 437.6,794.5 439.0,795.5 440.4,794.7 442.2,795.4 443.8,794.5 445.3,795.4 447.0,795.3 448.6,794.6 449.9,795.4 451.5,794.7 453.7,795.5 455.2,794.7 457.4,794.7 459.4,795.4 461.5,794.6 463.1,794.4 464.4,795.3 466.3,794.4 468.1,795.5 469.4,794.7 471.6,795.4 473.6,794.3 474.9,795.9 476.6,795.3 478.2,795.8 480.2,794.8 481.6,781.1 483.1,800.4 484.3,770.3 486.3,735.2 487.9,722.7 489.2,716.1 491.4,706.6 493.3,700.0 494.6,697.1 496.5,692.1 498.2,688.9 499.9,684.9 501.7,682.1 503.7,678.3 505.0,677.3 506.4,674.8 508.0,673.4 509.9,671.2 511.8,669.9 513.5,667.7 514.9,666.3 516.8,664.8 519.0,664.1 521.1,662.3 523.3,660.7 525.2,659.3 526.7,658.5 528.4,658.9 529.9,657.5 531.1,657.6 533.2,656.2 534.6,655.8 536.3,656.3 538.4,655.0 540.5,655.1 542.3,654.9 543.8,655.0 545.3,653.7 546.7,654.5 548.7,653.5 550.9,653.9 552.4,653.1 553.8,653.6 555.5,652.4 556.9,653.2 558.1,652.3 559.7,652.6 561.5,651.9 563.1,652.5 564.6,652.7 566.4,652.3 568.0,652.8 569.9,653.8 571.7,653.5 573.6,654.4 574.9,654.8 576.8,658.6 577.7,801.0 579.3,796.0 580.5,795.1 581.7,795.4 583.0,795.2 584.7,794.3 586.1,794.5 587.4,795.6 589.3,795.1 591.2,795.4 592.9,794.6 594.3,795.1 596.3,794.3 598.2,794.5 599.8,795.6 601.3,794.3 602.7,794.2 604.1,795.2 606.3,794.3 608.4,795.3 610.5,794.3 612.4,795.7 614.4,794.3 616.0,794.3 617.5,795.2 618.8,794.2 620.0,795.2 621.6,795.2 622.8,794.3 624.7,795.5 626.5,794.5 628.5,794.2 630.6,795.6 631.9,795.2 633.1,794.2 635.0,794.2 636.4,795.2 638.4,794.6 640.0,795.1 641.5,794.3 643.0,795.7 645.1,794.3 646.7,795.4 648.2,795.5" fill="none" stroke="#f01414" stroke-width="1.7" stroke-linejoin="round" stroke-linecap="butt"/>
</svg>
<g><line x1="435.32" y1="815.30" x2="435.32" y2="812.10" stroke="#262626" stroke-width="1.2"/>
<line x1="435.32" y1="598.60" x2="435.32" y2="601.80" stroke="#262626" stroke-width="1.2"/>
<line x1="482.63" y1="815.30" x2="482.63" y2="812.10" stroke="#262626" stroke-width="1.2"/>
<line x1="482.63" y1="598.60" x2="482.63" y2="601.80" stroke="#262626" stroke-width="1.2"/>
<line x1="529.95" y1="815.30" x2="529.95" y2="812.10" stroke="#262626" stroke-width="1.2"/>
<line x1="529.95" y1="598.60" x2="529.95" y2="601.80" stroke="#262626" stroke-width="1.2"/>
<line x1="577.27" y1="815.30" x2="577.27" y2="812.10" stroke="#262626" stroke-width="1.2"/>
<line x1="577.27" y1="598.60" x2="577.27" y2="601.80" stroke="#262626" stroke-width="1.2"/>
<line x1="624.58" y1="815.30" x2="624.58" y2="812.10" stroke="#262626" stroke-width="1.2"/>
<line x1="624.58" y1="598.60" x2="624.58" y2="601.80" stroke="#262626" stroke-width="1.2"/>
<line x1="388.00" y1="779.18" x2="391.20" y2="779.18" stroke="#262626" stroke-width="1.2"/>
<line x1="671.90" y1="779.18" x2="668.70" y2="779.18" stroke="#262626" stroke-width="1.2"/>
<line x1="388.00" y1="743.07" x2="391.20" y2="743.07" stroke="#262626" stroke-width="1.2"/>
<line x1="671.90" y1="743.07" x2="668.70" y2="743.07" stroke="#262626" stroke-width="1.2"/>
<line x1="388.00" y1="706.95" x2="391.20" y2="706.95" stroke="#262626" stroke-width="1.2"/>
<line x1="671.90" y1="706.95" x2="668.70" y2="706.95" stroke="#262626" stroke-width="1.2"/>
<line x1="388.00" y1="670.83" x2="391.20" y2="670.83" stroke="#262626" stroke-width="1.2"/>
<line x1="671.90" y1="670.83" x2="668.70" y2="670.83" stroke="#262626" stroke-width="1.2"/>
<line x1="388.00" y1="634.72" x2="391.20" y2="634.72" stroke="#262626" stroke-width="1.2"/>
<line x1="671.90" y1="634.72" x2="668.70" y2="634.72" stroke="#262626" stroke-width="1.2"/>
<rect x="388.00" y="598.60" width="283.90" height="216.70" fill="none" stroke="#262626" stroke-width="1.25"/>
<text transform="translate(390.30,833.10) scale(1.03,1.16)" text-anchor="middle" font-size="12">-6</text>
<text transform="translate(437.62,833.10) scale(1.03,1.16)" text-anchor="middle" font-size="12">-4</text>
<text transform="translate(484.93,833.10) scale(1.03,1.16)" text-anchor="middle" font-size="12">-2</text>
<text transform="translate(532.25,833.10) scale(1.03,1.16)" text-anchor="middle" font-size="12">0</text>
<text transform="translate(579.57,833.10) scale(1.03,1.16)" text-anchor="middle" font-size="12">2</text>
<text transform="translate(626.88,833.10) scale(1.03,1.16)" text-anchor="middle" font-size="12">4</text>
<text transform="translate(674.20,833.10) scale(1.03,1.16)" text-anchor="middle" font-size="12">6</text>
<text transform="translate(385.50,820.60) scale(1.0,1.1)" text-anchor="end" font-size="12">40</text>
<text transform="translate(385.50,784.48) scale(1.0,1.1)" text-anchor="end" font-size="12">50</text>
<text transform="translate(385.50,748.37) scale(1.0,1.1)" text-anchor="end" font-size="12">60</text>
<text transform="translate(385.50,712.25) scale(1.0,1.1)" text-anchor="end" font-size="12">70</text>
<text transform="translate(385.50,676.13) scale(1.0,1.1)" text-anchor="end" font-size="12">80</text>
<text transform="translate(385.50,640.02) scale(1.0,1.1)" text-anchor="end" font-size="12">90</text>
<text transform="translate(385.50,603.90) scale(1.0,1.1)" text-anchor="end" font-size="12">100</text>
<text x="538.80" y="850.00" text-anchor="middle" font-size="14.4">Distances(km)</text>
<text transform="translate(358.20,704.40) rotate(-90) scale(1,1)" text-anchor="middle" font-size="14.2">Phase</text>
<text transform="translate(538.00,871.40) scale(1,1.08)" text-anchor="middle" font-size="16">(c2)</text></g>
<rect x="24.1" y="888.1" width="657.1" height="34.1" fill="#fff" stroke="#7c7c7c" stroke-width="1.2"/>
<line x1="24.1" y1="922.2" x2="681.2" y2="922.2" stroke="#3a3a3a" stroke-width="1.2"/>
<line x1="681.2" y1="888.1" x2="681.2" y2="922.2" stroke="#3a3a3a" stroke-width="1.2"/>
<line x1="31.6" y1="902.9" x2="89.3" y2="902.9" stroke="#22e622" stroke-width="1.8"/>
<line x1="189.1" y1="905.1" x2="246.8" y2="905.1" stroke="#2222e8" stroke-width="1.5"/>
<line x1="458.9" y1="906.8" x2="516.9" y2="906.8" stroke="#ee2222" stroke-width="1.8"/>
<text x="98.0" y="907.2" font-size="13.0" textLength="75.5" lengthAdjust="spacing">Hybird mesh</text>
<text x="253.4" y="908.7" font-size="13.2" textLength="187.7" lengthAdjust="spacing">Tetrahedron mesh(similar DoF)</text>
<text x="519.3" y="910.8" font-size="13.2" textLength="152.6" lengthAdjust="spacing">Tetrahedron mesh(Dense)</text>
</svg>
</body></html>
